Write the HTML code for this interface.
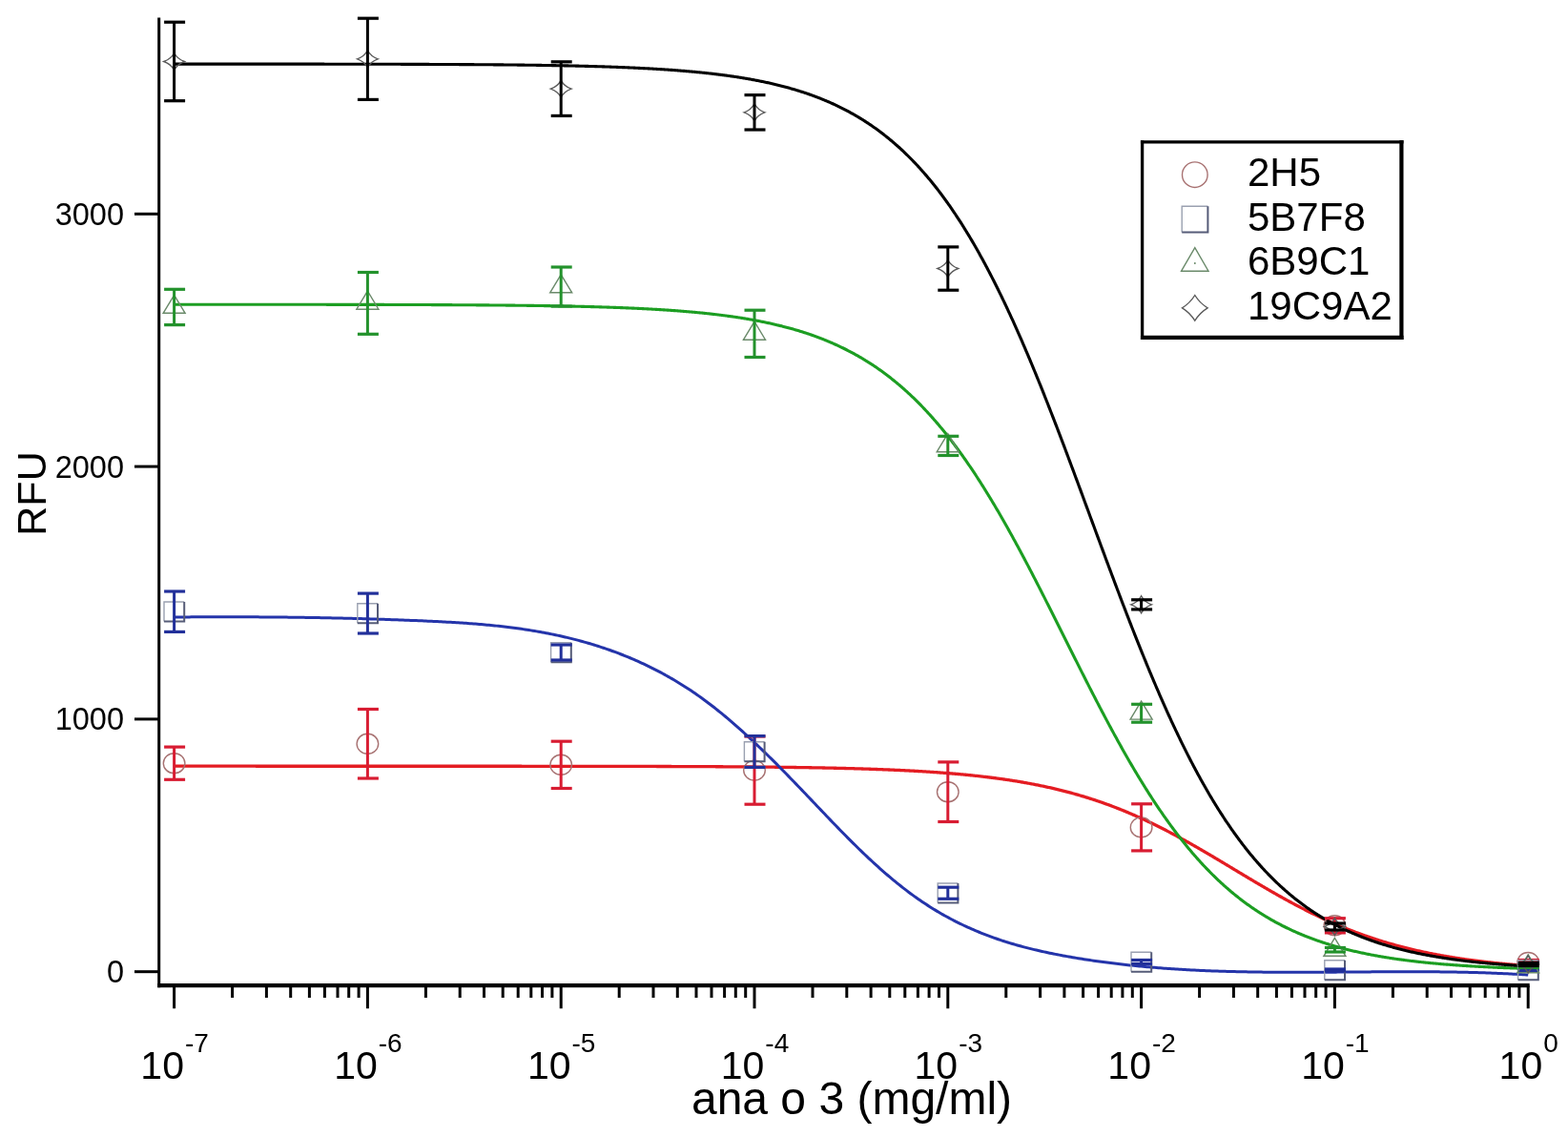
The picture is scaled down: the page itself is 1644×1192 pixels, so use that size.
<!DOCTYPE html>
<html><head><meta charset="utf-8"><style>
html,body{margin:0;padding:0;background:#fff;}
svg{display:block;}
</style></head><body>
<svg width="1644" height="1192" viewBox="0 0 1644 1192">
<rect width="1644" height="1192" fill="#fff"/>
<g stroke="#000" stroke-width="3" fill="none">
<line x1="166.7" y1="18.5" x2="166.7" y2="1035.3"/>
<line x1="165.2" y1="1033.2" x2="1603.7" y2="1033.2" stroke-width="4.2"/>
<line x1="141" y1="1018.7" x2="166.7" y2="1018.7"/>
<line x1="141" y1="753.9" x2="166.7" y2="753.9"/>
<line x1="141" y1="489.1" x2="166.7" y2="489.1"/>
<line x1="141" y1="224.3" x2="166.7" y2="224.3"/>
<line x1="182.6" y1="1033.2" x2="182.6" y2="1057.3"/>
<line x1="243.6" y1="1033.2" x2="243.6" y2="1046"/>
<line x1="279.4" y1="1033.2" x2="279.4" y2="1046"/>
<line x1="304.7" y1="1033.2" x2="304.7" y2="1046"/>
<line x1="324.4" y1="1033.2" x2="324.4" y2="1046"/>
<line x1="340.4" y1="1033.2" x2="340.4" y2="1046"/>
<line x1="354.0" y1="1033.2" x2="354.0" y2="1046"/>
<line x1="365.7" y1="1033.2" x2="365.7" y2="1046"/>
<line x1="376.1" y1="1033.2" x2="376.1" y2="1046"/>
<line x1="385.4" y1="1033.2" x2="385.4" y2="1057.3"/>
<line x1="446.4" y1="1033.2" x2="446.4" y2="1046"/>
<line x1="482.2" y1="1033.2" x2="482.2" y2="1046"/>
<line x1="507.5" y1="1033.2" x2="507.5" y2="1046"/>
<line x1="527.2" y1="1033.2" x2="527.2" y2="1046"/>
<line x1="543.2" y1="1033.2" x2="543.2" y2="1046"/>
<line x1="556.8" y1="1033.2" x2="556.8" y2="1046"/>
<line x1="568.5" y1="1033.2" x2="568.5" y2="1046"/>
<line x1="578.9" y1="1033.2" x2="578.9" y2="1046"/>
<line x1="588.2" y1="1033.2" x2="588.2" y2="1057.3"/>
<line x1="649.2" y1="1033.2" x2="649.2" y2="1046"/>
<line x1="685.0" y1="1033.2" x2="685.0" y2="1046"/>
<line x1="710.3" y1="1033.2" x2="710.3" y2="1046"/>
<line x1="730.0" y1="1033.2" x2="730.0" y2="1046"/>
<line x1="746.0" y1="1033.2" x2="746.0" y2="1046"/>
<line x1="759.6" y1="1033.2" x2="759.6" y2="1046"/>
<line x1="771.3" y1="1033.2" x2="771.3" y2="1046"/>
<line x1="781.7" y1="1033.2" x2="781.7" y2="1046"/>
<line x1="791.0" y1="1033.2" x2="791.0" y2="1057.3"/>
<line x1="852.0" y1="1033.2" x2="852.0" y2="1046"/>
<line x1="887.8" y1="1033.2" x2="887.8" y2="1046"/>
<line x1="913.1" y1="1033.2" x2="913.1" y2="1046"/>
<line x1="932.8" y1="1033.2" x2="932.8" y2="1046"/>
<line x1="948.8" y1="1033.2" x2="948.8" y2="1046"/>
<line x1="962.4" y1="1033.2" x2="962.4" y2="1046"/>
<line x1="974.1" y1="1033.2" x2="974.1" y2="1046"/>
<line x1="984.5" y1="1033.2" x2="984.5" y2="1046"/>
<line x1="993.8" y1="1033.2" x2="993.8" y2="1057.3"/>
<line x1="1054.8" y1="1033.2" x2="1054.8" y2="1046"/>
<line x1="1090.6" y1="1033.2" x2="1090.6" y2="1046"/>
<line x1="1115.9" y1="1033.2" x2="1115.9" y2="1046"/>
<line x1="1135.6" y1="1033.2" x2="1135.6" y2="1046"/>
<line x1="1151.6" y1="1033.2" x2="1151.6" y2="1046"/>
<line x1="1165.2" y1="1033.2" x2="1165.2" y2="1046"/>
<line x1="1176.9" y1="1033.2" x2="1176.9" y2="1046"/>
<line x1="1187.3" y1="1033.2" x2="1187.3" y2="1046"/>
<line x1="1196.6" y1="1033.2" x2="1196.6" y2="1057.3"/>
<line x1="1257.6" y1="1033.2" x2="1257.6" y2="1046"/>
<line x1="1293.4" y1="1033.2" x2="1293.4" y2="1046"/>
<line x1="1318.7" y1="1033.2" x2="1318.7" y2="1046"/>
<line x1="1338.4" y1="1033.2" x2="1338.4" y2="1046"/>
<line x1="1354.4" y1="1033.2" x2="1354.4" y2="1046"/>
<line x1="1368.0" y1="1033.2" x2="1368.0" y2="1046"/>
<line x1="1379.7" y1="1033.2" x2="1379.7" y2="1046"/>
<line x1="1390.1" y1="1033.2" x2="1390.1" y2="1046"/>
<line x1="1399.4" y1="1033.2" x2="1399.4" y2="1057.3"/>
<line x1="1460.4" y1="1033.2" x2="1460.4" y2="1046"/>
<line x1="1496.2" y1="1033.2" x2="1496.2" y2="1046"/>
<line x1="1521.5" y1="1033.2" x2="1521.5" y2="1046"/>
<line x1="1541.2" y1="1033.2" x2="1541.2" y2="1046"/>
<line x1="1557.2" y1="1033.2" x2="1557.2" y2="1046"/>
<line x1="1570.8" y1="1033.2" x2="1570.8" y2="1046"/>
<line x1="1582.5" y1="1033.2" x2="1582.5" y2="1046"/>
<line x1="1592.9" y1="1033.2" x2="1592.9" y2="1046"/>
<line x1="1602.2" y1="1033.2" x2="1602.2" y2="1057.3"/>
</g>
<g font-family="Liberation Sans, Arial, sans-serif" fill="#000">
<text x="130" y="1030.2" font-size="32.5" text-anchor="end">0</text>
<text x="130" y="765.4" font-size="32.5" text-anchor="end">1000</text>
<text x="130" y="500.6" font-size="32.5" text-anchor="end">2000</text>
<text x="130" y="235.8" font-size="32.5" text-anchor="end">3000</text>
<text x="183.1" y="1131" font-size="41" text-anchor="middle">10<tspan font-size="28" dx="1" dy="-28.5">-7</tspan></text>
<text x="385.9" y="1131" font-size="41" text-anchor="middle">10<tspan font-size="28" dx="1" dy="-28.5">-6</tspan></text>
<text x="588.7" y="1131" font-size="41" text-anchor="middle">10<tspan font-size="28" dx="1" dy="-28.5">-5</tspan></text>
<text x="791.5" y="1131" font-size="41" text-anchor="middle">10<tspan font-size="28" dx="1" dy="-28.5">-4</tspan></text>
<text x="994.3" y="1131" font-size="41" text-anchor="middle">10<tspan font-size="28" dx="1" dy="-28.5">-3</tspan></text>
<text x="1197.1" y="1131" font-size="41" text-anchor="middle">10<tspan font-size="28" dx="1" dy="-28.5">-2</tspan></text>
<text x="1399.9" y="1131" font-size="41" text-anchor="middle">10<tspan font-size="28" dx="1" dy="-28.5">-1</tspan></text>
<text x="1602.7" y="1131" font-size="41" text-anchor="middle">10<tspan font-size="28" dx="1" dy="-28.5">0</tspan></text>
<text x="893" y="1168" font-size="48" text-anchor="middle">ana o 3 (mg/ml)</text>
<text transform="translate(48 517.5) rotate(-90)" font-size="43" text-anchor="middle">RFU</text>
</g>
<path d="M182.6,803.22 L183.6,803.22 L184.6,803.22 L185.6,803.22 L186.6,803.22 L187.6,803.22 L188.6,803.22 L189.6,803.22 L190.6,803.22 L191.6,803.22 L192.6,803.22 L193.6,803.22 L194.6,803.22 L195.6,803.22 L196.6,803.22 L197.6,803.22 L198.6,803.22 L199.6,803.22 L200.6,803.22 L201.6,803.22 L202.6,803.22 L203.6,803.22 L204.6,803.22 L205.6,803.22 L206.6,803.22 L207.6,803.22 L208.6,803.22 L209.6,803.22 L210.6,803.22 L211.6,803.22 L212.6,803.22 L213.6,803.22 L214.6,803.22 L215.6,803.22 L216.6,803.22 L217.6,803.22 L218.6,803.22 L219.6,803.22 L220.6,803.22 L221.6,803.22 L222.6,803.22 L223.6,803.22 L224.6,803.22 L225.6,803.22 L226.6,803.22 L227.6,803.22 L228.6,803.22 L229.6,803.22 L230.6,803.22 L231.6,803.22 L232.6,803.22 L233.6,803.22 L234.6,803.22 L235.6,803.22 L236.6,803.22 L237.6,803.22 L238.6,803.22 L239.6,803.22 L240.6,803.22 L241.6,803.22 L242.6,803.22 L243.6,803.22 L244.6,803.22 L245.6,803.22 L246.6,803.22 L247.6,803.22 L248.6,803.22 L249.6,803.22 L250.6,803.22 L251.6,803.22 L252.6,803.22 L253.6,803.22 L254.6,803.22 L255.6,803.22 L256.6,803.22 L257.6,803.22 L258.6,803.22 L259.6,803.22 L260.6,803.22 L261.6,803.22 L262.6,803.22 L263.6,803.22 L264.6,803.22 L265.6,803.22 L266.6,803.22 L267.6,803.22 L268.6,803.23 L269.6,803.23 L270.6,803.23 L271.6,803.23 L272.6,803.23 L273.6,803.23 L274.6,803.23 L275.6,803.23 L276.6,803.23 L277.6,803.23 L278.6,803.23 L279.6,803.23 L280.6,803.23 L281.6,803.23 L282.6,803.23 L283.6,803.23 L284.6,803.23 L285.6,803.23 L286.6,803.23 L287.6,803.23 L288.6,803.23 L289.6,803.23 L290.6,803.23 L291.6,803.23 L292.6,803.23 L293.6,803.23 L294.6,803.23 L295.6,803.23 L296.6,803.23 L297.6,803.23 L298.6,803.23 L299.6,803.23 L300.6,803.23 L301.6,803.23 L302.6,803.23 L303.6,803.23 L304.6,803.23 L305.6,803.23 L306.6,803.23 L307.6,803.23 L308.6,803.23 L309.6,803.23 L310.6,803.23 L311.6,803.23 L312.6,803.23 L313.6,803.23 L314.6,803.23 L315.6,803.23 L316.6,803.23 L317.6,803.23 L318.6,803.23 L319.6,803.23 L320.6,803.23 L321.6,803.23 L322.6,803.23 L323.6,803.23 L324.6,803.23 L325.6,803.23 L326.6,803.23 L327.6,803.23 L328.6,803.23 L329.6,803.23 L330.6,803.23 L331.6,803.23 L332.6,803.23 L333.6,803.23 L334.6,803.23 L335.6,803.23 L336.6,803.23 L337.6,803.23 L338.6,803.23 L339.6,803.23 L340.6,803.23 L341.6,803.23 L342.6,803.23 L343.6,803.23 L344.6,803.23 L345.6,803.23 L346.6,803.23 L347.6,803.23 L348.6,803.23 L349.6,803.23 L350.6,803.23 L351.6,803.23 L352.6,803.23 L353.6,803.23 L354.6,803.23 L355.6,803.23 L356.6,803.23 L357.6,803.23 L358.6,803.23 L359.6,803.23 L360.6,803.23 L361.6,803.23 L362.6,803.23 L363.6,803.23 L364.6,803.23 L365.6,803.23 L366.6,803.23 L367.6,803.23 L368.6,803.23 L369.6,803.23 L370.6,803.23 L371.6,803.23 L372.6,803.23 L373.6,803.23 L374.6,803.23 L375.6,803.23 L376.6,803.23 L377.6,803.23 L378.6,803.23 L379.6,803.23 L380.6,803.23 L381.6,803.23 L382.6,803.23 L383.6,803.23 L384.6,803.23 L385.6,803.23 L386.6,803.23 L387.6,803.23 L388.6,803.23 L389.6,803.23 L390.6,803.23 L391.6,803.23 L392.6,803.23 L393.6,803.23 L394.6,803.23 L395.6,803.23 L396.6,803.23 L397.6,803.23 L398.6,803.23 L399.6,803.23 L400.6,803.23 L401.6,803.23 L402.6,803.23 L403.6,803.23 L404.6,803.23 L405.6,803.23 L406.6,803.23 L407.6,803.23 L408.6,803.23 L409.6,803.23 L410.6,803.23 L411.6,803.23 L412.6,803.23 L413.6,803.23 L414.6,803.23 L415.6,803.23 L416.6,803.23 L417.6,803.24 L418.6,803.24 L419.6,803.24 L420.6,803.24 L421.6,803.24 L422.6,803.24 L423.6,803.24 L424.6,803.24 L425.6,803.24 L426.6,803.24 L427.6,803.24 L428.6,803.24 L429.6,803.24 L430.6,803.24 L431.6,803.24 L432.6,803.24 L433.6,803.24 L434.6,803.24 L435.6,803.24 L436.6,803.24 L437.6,803.24 L438.6,803.24 L439.6,803.24 L440.6,803.24 L441.6,803.24 L442.6,803.24 L443.6,803.24 L444.6,803.24 L445.6,803.24 L446.6,803.24 L447.6,803.24 L448.6,803.24 L449.6,803.24 L450.6,803.24 L451.6,803.24 L452.6,803.24 L453.6,803.24 L454.6,803.24 L455.6,803.24 L456.6,803.24 L457.6,803.24 L458.6,803.24 L459.6,803.24 L460.6,803.24 L461.6,803.24 L462.6,803.24 L463.6,803.24 L464.6,803.24 L465.6,803.24 L466.6,803.24 L467.6,803.24 L468.6,803.24 L469.6,803.24 L470.6,803.25 L471.6,803.25 L472.6,803.25 L473.6,803.25 L474.6,803.25 L475.6,803.25 L476.6,803.25 L477.6,803.25 L478.6,803.25 L479.6,803.25 L480.6,803.25 L481.6,803.25 L482.6,803.25 L483.6,803.25 L484.6,803.25 L485.6,803.25 L486.6,803.25 L487.6,803.25 L488.6,803.25 L489.6,803.25 L490.6,803.25 L491.6,803.25 L492.6,803.25 L493.6,803.25 L494.6,803.25 L495.6,803.25 L496.6,803.25 L497.6,803.25 L498.6,803.25 L499.6,803.25 L500.6,803.25 L501.6,803.25 L502.6,803.25 L503.6,803.26 L504.6,803.26 L505.6,803.26 L506.6,803.26 L507.6,803.26 L508.6,803.26 L509.6,803.26 L510.6,803.26 L511.6,803.26 L512.6,803.26 L513.6,803.26 L514.6,803.26 L515.6,803.26 L516.6,803.26 L517.6,803.26 L518.6,803.26 L519.6,803.26 L520.6,803.26 L521.6,803.26 L522.6,803.26 L523.6,803.26 L524.6,803.26 L525.6,803.26 L526.6,803.26 L527.6,803.26 L528.6,803.27 L529.6,803.27 L530.6,803.27 L531.6,803.27 L532.6,803.27 L533.6,803.27 L534.6,803.27 L535.6,803.27 L536.6,803.27 L537.6,803.27 L538.6,803.27 L539.6,803.27 L540.6,803.27 L541.6,803.27 L542.6,803.27 L543.6,803.27 L544.6,803.27 L545.6,803.27 L546.6,803.27 L547.6,803.28 L548.6,803.28 L549.6,803.28 L550.6,803.28 L551.6,803.28 L552.6,803.28 L553.6,803.28 L554.6,803.28 L555.6,803.28 L556.6,803.28 L557.6,803.28 L558.6,803.28 L559.6,803.28 L560.6,803.28 L561.6,803.28 L562.6,803.29 L563.6,803.29 L564.6,803.29 L565.6,803.29 L566.6,803.29 L567.6,803.29 L568.6,803.29 L569.6,803.29 L570.6,803.29 L571.6,803.29 L572.6,803.29 L573.6,803.29 L574.6,803.29 L575.6,803.29 L576.6,803.30 L577.6,803.30 L578.6,803.30 L579.6,803.30 L580.6,803.30 L581.6,803.30 L582.6,803.30 L583.6,803.30 L584.6,803.30 L585.6,803.30 L586.6,803.30 L587.6,803.31 L588.6,803.31 L589.6,803.31 L590.6,803.31 L591.6,803.31 L592.6,803.31 L593.6,803.31 L594.6,803.31 L595.6,803.31 L596.6,803.31 L597.6,803.31 L598.6,803.32 L599.6,803.32 L600.6,803.32 L601.6,803.32 L602.6,803.32 L603.6,803.32 L604.6,803.32 L605.6,803.32 L606.6,803.32 L607.6,803.33 L608.6,803.33 L609.6,803.33 L610.6,803.33 L611.6,803.33 L612.6,803.33 L613.6,803.33 L614.6,803.33 L615.6,803.34 L616.6,803.34 L617.6,803.34 L618.6,803.34 L619.6,803.34 L620.6,803.34 L621.6,803.34 L622.6,803.34 L623.6,803.35 L624.6,803.35 L625.6,803.35 L626.6,803.35 L627.6,803.35 L628.6,803.35 L629.6,803.35 L630.6,803.36 L631.6,803.36 L632.6,803.36 L633.6,803.36 L634.6,803.36 L635.6,803.36 L636.6,803.37 L637.6,803.37 L638.6,803.37 L639.6,803.37 L640.6,803.37 L641.6,803.37 L642.6,803.38 L643.6,803.38 L644.6,803.38 L645.6,803.38 L646.6,803.38 L647.6,803.38 L648.6,803.39 L649.6,803.39 L650.6,803.39 L651.6,803.39 L652.6,803.39 L653.6,803.39 L654.6,803.40 L655.6,803.40 L656.6,803.40 L657.6,803.40 L658.6,803.40 L659.6,803.41 L660.6,803.41 L661.6,803.41 L662.6,803.41 L663.6,803.42 L664.6,803.42 L665.6,803.42 L666.6,803.42 L667.6,803.42 L668.6,803.43 L669.6,803.43 L670.6,803.43 L671.6,803.43 L672.6,803.44 L673.6,803.44 L674.6,803.44 L675.6,803.44 L676.6,803.45 L677.6,803.45 L678.6,803.45 L679.6,803.45 L680.6,803.46 L681.6,803.46 L682.6,803.46 L683.6,803.46 L684.6,803.47 L685.6,803.47 L686.6,803.47 L687.6,803.47 L688.6,803.48 L689.6,803.48 L690.6,803.48 L691.6,803.49 L692.6,803.49 L693.6,803.49 L694.6,803.49 L695.6,803.50 L696.6,803.50 L697.6,803.50 L698.6,803.51 L699.6,803.51 L700.6,803.51 L701.6,803.52 L702.6,803.52 L703.6,803.52 L704.6,803.53 L705.6,803.53 L706.6,803.53 L707.6,803.54 L708.6,803.54 L709.6,803.54 L710.6,803.55 L711.6,803.55 L712.6,803.55 L713.6,803.56 L714.6,803.56 L715.6,803.57 L716.6,803.57 L717.6,803.57 L718.6,803.58 L719.6,803.58 L720.6,803.59 L721.6,803.59 L722.6,803.59 L723.6,803.60 L724.6,803.60 L725.6,803.61 L726.6,803.61 L727.6,803.62 L728.6,803.62 L729.6,803.62 L730.6,803.63 L731.6,803.63 L732.6,803.64 L733.6,803.64 L734.6,803.65 L735.6,803.65 L736.6,803.66 L737.6,803.66 L738.6,803.67 L739.6,803.67 L740.6,803.68 L741.6,803.68 L742.6,803.69 L743.6,803.69 L744.6,803.70 L745.6,803.70 L746.6,803.71 L747.6,803.71 L748.6,803.72 L749.6,803.72 L750.6,803.73 L751.6,803.74 L752.6,803.74 L753.6,803.75 L754.6,803.75 L755.6,803.76 L756.6,803.76 L757.6,803.77 L758.6,803.78 L759.6,803.78 L760.6,803.79 L761.6,803.80 L762.6,803.80 L763.6,803.81 L764.6,803.82 L765.6,803.82 L766.6,803.83 L767.6,803.84 L768.6,803.84 L769.6,803.85 L770.6,803.86 L771.6,803.86 L772.6,803.87 L773.6,803.88 L774.6,803.88 L775.6,803.89 L776.6,803.90 L777.6,803.91 L778.6,803.91 L779.6,803.92 L780.6,803.93 L781.6,803.94 L782.6,803.95 L783.6,803.95 L784.6,803.96 L785.6,803.97 L786.6,803.98 L787.6,803.99 L788.6,804.00 L789.6,804.00 L790.6,804.01 L791.6,804.02 L792.6,804.03 L793.6,804.04 L794.6,804.05 L795.6,804.06 L796.6,804.07 L797.6,804.08 L798.6,804.09 L799.6,804.10 L800.6,804.11 L801.6,804.12 L802.6,804.13 L803.6,804.14 L804.6,804.15 L805.6,804.16 L806.6,804.17 L807.6,804.18 L808.6,804.19 L809.6,804.20 L810.6,804.21 L811.6,804.22 L812.6,804.23 L813.6,804.24 L814.6,804.25 L815.6,804.27 L816.6,804.28 L817.6,804.29 L818.6,804.30 L819.6,804.31 L820.6,804.33 L821.6,804.34 L822.6,804.35 L823.6,804.36 L824.6,804.38 L825.6,804.39 L826.6,804.40 L827.6,804.41 L828.6,804.43 L829.6,804.44 L830.6,804.46 L831.6,804.47 L832.6,804.48 L833.6,804.50 L834.6,804.51 L835.6,804.53 L836.6,804.54 L837.6,804.55 L838.6,804.57 L839.6,804.58 L840.6,804.60 L841.6,804.61 L842.6,804.63 L843.6,804.65 L844.6,804.66 L845.6,804.68 L846.6,804.69 L847.6,804.71 L848.6,804.73 L849.6,804.74 L850.6,804.76 L851.6,804.78 L852.6,804.80 L853.6,804.81 L854.6,804.83 L855.6,804.85 L856.6,804.87 L857.6,804.88 L858.6,804.90 L859.6,804.92 L860.6,804.94 L861.6,804.96 L862.6,804.98 L863.6,805.00 L864.6,805.02 L865.6,805.04 L866.6,805.06 L867.6,805.08 L868.6,805.10 L869.6,805.12 L870.6,805.14 L871.6,805.16 L872.6,805.18 L873.6,805.21 L874.6,805.23 L875.6,805.25 L876.6,805.27 L877.6,805.30 L878.6,805.32 L879.6,805.34 L880.6,805.37 L881.6,805.39 L882.6,805.41 L883.6,805.44 L884.6,805.46 L885.6,805.49 L886.6,805.51 L887.6,805.54 L888.6,805.56 L889.6,805.59 L890.6,805.62 L891.6,805.64 L892.6,805.67 L893.6,805.70 L894.6,805.72 L895.6,805.75 L896.6,805.78 L897.6,805.81 L898.6,805.84 L899.6,805.86 L900.6,805.89 L901.6,805.92 L902.6,805.95 L903.6,805.98 L904.6,806.01 L905.6,806.04 L906.6,806.08 L907.6,806.11 L908.6,806.14 L909.6,806.17 L910.6,806.20 L911.6,806.24 L912.6,806.27 L913.6,806.30 L914.6,806.34 L915.6,806.37 L916.6,806.41 L917.6,806.44 L918.6,806.48 L919.6,806.51 L920.6,806.55 L921.6,806.59 L922.6,806.62 L923.6,806.66 L924.6,806.70 L925.6,806.74 L926.6,806.78 L927.6,806.82 L928.6,806.86 L929.6,806.90 L930.6,806.94 L931.6,806.98 L932.6,807.02 L933.6,807.06 L934.6,807.10 L935.6,807.15 L936.6,807.19 L937.6,807.23 L938.6,807.28 L939.6,807.32 L940.6,807.37 L941.6,807.41 L942.6,807.46 L943.6,807.50 L944.6,807.55 L945.6,807.60 L946.6,807.65 L947.6,807.69 L948.6,807.74 L949.6,807.79 L950.6,807.84 L951.6,807.89 L952.6,807.95 L953.6,808.00 L954.6,808.05 L955.6,808.10 L956.6,808.16 L957.6,808.21 L958.6,808.26 L959.6,808.32 L960.6,808.38 L961.6,808.43 L962.6,808.49 L963.6,808.55 L964.6,808.60 L965.6,808.66 L966.6,808.72 L967.6,808.78 L968.6,808.84 L969.6,808.90 L970.6,808.97 L971.6,809.03 L972.6,809.09 L973.6,809.16 L974.6,809.22 L975.6,809.29 L976.6,809.35 L977.6,809.42 L978.6,809.49 L979.6,809.55 L980.6,809.62 L981.6,809.69 L982.6,809.76 L983.6,809.83 L984.6,809.91 L985.6,809.98 L986.6,810.05 L987.6,810.13 L988.6,810.20 L989.6,810.28 L990.6,810.35 L991.6,810.43 L992.6,810.51 L993.6,810.59 L994.6,810.67 L995.6,810.75 L996.6,810.83 L997.6,810.91 L998.6,810.99 L999.6,811.08 L1000.6,811.16 L1001.6,811.25 L1002.6,811.34 L1003.6,811.42 L1004.6,811.51 L1005.6,811.60 L1006.6,811.69 L1007.6,811.78 L1008.6,811.87 L1009.6,811.97 L1010.6,812.06 L1011.6,812.16 L1012.6,812.25 L1013.6,812.35 L1014.6,812.45 L1015.6,812.55 L1016.6,812.65 L1017.6,812.75 L1018.6,812.85 L1019.6,812.95 L1020.6,813.06 L1021.6,813.16 L1022.6,813.27 L1023.6,813.37 L1024.6,813.48 L1025.6,813.59 L1026.6,813.70 L1027.6,813.81 L1028.6,813.93 L1029.6,814.04 L1030.6,814.16 L1031.6,814.27 L1032.6,814.39 L1033.6,814.51 L1034.6,814.63 L1035.6,814.75 L1036.6,814.87 L1037.6,815.00 L1038.6,815.12 L1039.6,815.25 L1040.6,815.37 L1041.6,815.50 L1042.6,815.63 L1043.6,815.76 L1044.6,815.89 L1045.6,816.03 L1046.6,816.16 L1047.6,816.30 L1048.6,816.44 L1049.6,816.58 L1050.6,816.72 L1051.6,816.86 L1052.6,817.00 L1053.6,817.15 L1054.6,817.29 L1055.6,817.44 L1056.6,817.59 L1057.6,817.74 L1058.6,817.89 L1059.6,818.04 L1060.6,818.20 L1061.6,818.35 L1062.6,818.51 L1063.6,818.67 L1064.6,818.83 L1065.6,818.99 L1066.6,819.16 L1067.6,819.32 L1068.6,819.49 L1069.6,819.66 L1070.6,819.83 L1071.6,820.00 L1072.6,820.17 L1073.6,820.35 L1074.6,820.52 L1075.6,820.70 L1076.6,820.88 L1077.6,821.06 L1078.6,821.25 L1079.6,821.43 L1080.6,821.62 L1081.6,821.81 L1082.6,822.00 L1083.6,822.19 L1084.6,822.38 L1085.6,822.58 L1086.6,822.77 L1087.6,822.97 L1088.6,823.17 L1089.6,823.38 L1090.6,823.58 L1091.6,823.79 L1092.6,824.00 L1093.6,824.21 L1094.6,824.42 L1095.6,824.63 L1096.6,824.85 L1097.6,825.07 L1098.6,825.29 L1099.6,825.51 L1100.6,825.73 L1101.6,825.96 L1102.6,826.19 L1103.6,826.42 L1104.6,826.65 L1105.6,826.88 L1106.6,827.12 L1107.6,827.35 L1108.6,827.59 L1109.6,827.84 L1110.6,828.08 L1111.6,828.33 L1112.6,828.58 L1113.6,828.83 L1114.6,829.08 L1115.6,829.33 L1116.6,829.59 L1117.6,829.85 L1118.6,830.11 L1119.6,830.37 L1120.6,830.64 L1121.6,830.91 L1122.6,831.18 L1123.6,831.45 L1124.6,831.72 L1125.6,832.00 L1126.6,832.28 L1127.6,832.56 L1128.6,832.85 L1129.6,833.13 L1130.6,833.42 L1131.6,833.71 L1132.6,834.00 L1133.6,834.30 L1134.6,834.60 L1135.6,834.90 L1136.6,835.20 L1137.6,835.50 L1138.6,835.81 L1139.6,836.12 L1140.6,836.43 L1141.6,836.75 L1142.6,837.06 L1143.6,837.38 L1144.6,837.71 L1145.6,838.03 L1146.6,838.36 L1147.6,838.69 L1148.6,839.02 L1149.6,839.35 L1150.6,839.69 L1151.6,840.03 L1152.6,840.37 L1153.6,840.71 L1154.6,841.06 L1155.6,841.41 L1156.6,841.76 L1157.6,842.11 L1158.6,842.47 L1159.6,842.83 L1160.6,843.19 L1161.6,843.56 L1162.6,843.92 L1163.6,844.29 L1164.6,844.66 L1165.6,845.04 L1166.6,845.42 L1167.6,845.80 L1168.6,846.18 L1169.6,846.56 L1170.6,846.95 L1171.6,847.34 L1172.6,847.73 L1173.6,848.13 L1174.6,848.53 L1175.6,848.93 L1176.6,849.33 L1177.6,849.73 L1178.6,850.14 L1179.6,850.55 L1180.6,850.97 L1181.6,851.38 L1182.6,851.80 L1183.6,852.22 L1184.6,852.65 L1185.6,853.07 L1186.6,853.50 L1187.6,853.93 L1188.6,854.36 L1189.6,854.80 L1190.6,855.24 L1191.6,855.68 L1192.6,856.13 L1193.6,856.57 L1194.6,857.02 L1195.6,857.47 L1196.6,857.93 L1197.6,858.38 L1198.6,858.84 L1199.6,859.30 L1200.6,859.77 L1201.6,860.23 L1202.6,860.70 L1203.6,861.17 L1204.6,861.65 L1205.6,862.12 L1206.6,862.60 L1207.6,863.08 L1208.6,863.57 L1209.6,864.05 L1210.6,864.54 L1211.6,865.03 L1212.6,865.53 L1213.6,866.02 L1214.6,866.52 L1215.6,867.02 L1216.6,867.52 L1217.6,868.03 L1218.6,868.53 L1219.6,869.04 L1220.6,869.55 L1221.6,870.07 L1222.6,870.58 L1223.6,871.10 L1224.6,871.62 L1225.6,872.14 L1226.6,872.66 L1227.6,873.19 L1228.6,873.72 L1229.6,874.25 L1230.6,874.78 L1231.6,875.32 L1232.6,875.85 L1233.6,876.39 L1234.6,876.93 L1235.6,877.47 L1236.6,878.02 L1237.6,878.56 L1238.6,879.11 L1239.6,879.66 L1240.6,880.21 L1241.6,880.77 L1242.6,881.32 L1243.6,881.88 L1244.6,882.44 L1245.6,883.00 L1246.6,883.56 L1247.6,884.12 L1248.6,884.68 L1249.6,885.25 L1250.6,885.82 L1251.6,886.39 L1252.6,886.96 L1253.6,887.53 L1254.6,888.11 L1255.6,888.68 L1256.6,889.26 L1257.6,889.83 L1258.6,890.41 L1259.6,890.99 L1260.6,891.57 L1261.6,892.16 L1262.6,892.74 L1263.6,893.33 L1264.6,893.91 L1265.6,894.50 L1266.6,895.09 L1267.6,895.68 L1268.6,896.27 L1269.6,896.86 L1270.6,897.45 L1271.6,898.04 L1272.6,898.63 L1273.6,899.23 L1274.6,899.82 L1275.6,900.42 L1276.6,901.01 L1277.6,901.61 L1278.6,902.21 L1279.6,902.81 L1280.6,903.41 L1281.6,904.00 L1282.6,904.60 L1283.6,905.20 L1284.6,905.80 L1285.6,906.41 L1286.6,907.01 L1287.6,907.61 L1288.6,908.21 L1289.6,908.81 L1290.6,909.41 L1291.6,910.01 L1292.6,910.62 L1293.6,911.22 L1294.6,911.82 L1295.6,912.42 L1296.6,913.02 L1297.6,913.62 L1298.6,914.23 L1299.6,914.83 L1300.6,915.43 L1301.6,916.03 L1302.6,916.63 L1303.6,917.23 L1304.6,917.83 L1305.6,918.43 L1306.6,919.03 L1307.6,919.63 L1308.6,920.23 L1309.6,920.82 L1310.6,921.42 L1311.6,922.02 L1312.6,922.61 L1313.6,923.21 L1314.6,923.80 L1315.6,924.40 L1316.6,924.99 L1317.6,925.58 L1318.6,926.17 L1319.6,926.76 L1320.6,927.35 L1321.6,927.94 L1322.6,928.52 L1323.6,929.11 L1324.6,929.70 L1325.6,930.28 L1326.6,930.86 L1327.6,931.44 L1328.6,932.02 L1329.6,932.60 L1330.6,933.18 L1331.6,933.76 L1332.6,934.33 L1333.6,934.91 L1334.6,935.48 L1335.6,936.05 L1336.6,936.62 L1337.6,937.19 L1338.6,937.75 L1339.6,938.32 L1340.6,938.88 L1341.6,939.44 L1342.6,940.00 L1343.6,940.56 L1344.6,941.12 L1345.6,941.67 L1346.6,942.23 L1347.6,942.78 L1348.6,943.33 L1349.6,943.88 L1350.6,944.42 L1351.6,944.97 L1352.6,945.51 L1353.6,946.05 L1354.6,946.59 L1355.6,947.12 L1356.6,947.66 L1357.6,948.19 L1358.6,948.72 L1359.6,949.25 L1360.6,949.78 L1361.6,950.30 L1362.6,950.82 L1363.6,951.34 L1364.6,951.86 L1365.6,952.38 L1366.6,952.89 L1367.6,953.40 L1368.6,953.91 L1369.6,954.42 L1370.6,954.92 L1371.6,955.43 L1372.6,955.93 L1373.6,956.42 L1374.6,956.92 L1375.6,957.41 L1376.6,957.90 L1377.6,958.39 L1378.6,958.88 L1379.6,959.36 L1380.6,959.84 L1381.6,960.32 L1382.6,960.80 L1383.6,961.27 L1384.6,961.74 L1385.6,962.21 L1386.6,962.68 L1387.6,963.14 L1388.6,963.61 L1389.6,964.06 L1390.6,964.52 L1391.6,964.98 L1392.6,965.43 L1393.6,965.88 L1394.6,966.32 L1395.6,966.77 L1396.6,967.21 L1397.6,967.65 L1398.6,968.09 L1399.6,968.52 L1400.6,968.95 L1401.6,969.38 L1402.6,969.81 L1403.6,970.23 L1404.6,970.65 L1405.6,971.07 L1406.6,971.49 L1407.6,971.90 L1408.6,972.31 L1409.6,972.72 L1410.6,973.12 L1411.6,973.53 L1412.6,973.93 L1413.6,974.33 L1414.6,974.72 L1415.6,975.11 L1416.6,975.50 L1417.6,975.89 L1418.6,976.28 L1419.6,976.66 L1420.6,977.04 L1421.6,977.42 L1422.6,977.79 L1423.6,978.16 L1424.6,978.53 L1425.6,978.90 L1426.6,979.26 L1427.6,979.63 L1428.6,979.99 L1429.6,980.34 L1430.6,980.70 L1431.6,981.05 L1432.6,981.40 L1433.6,981.75 L1434.6,982.09 L1435.6,982.43 L1436.6,982.77 L1437.6,983.11 L1438.6,983.44 L1439.6,983.77 L1440.6,984.10 L1441.6,984.43 L1442.6,984.75 L1443.6,985.08 L1444.6,985.40 L1445.6,985.71 L1446.6,986.03 L1447.6,986.34 L1448.6,986.65 L1449.6,986.96 L1450.6,987.26 L1451.6,987.56 L1452.6,987.87 L1453.6,988.16 L1454.6,988.46 L1455.6,988.75 L1456.6,989.04 L1457.6,989.33 L1458.6,989.62 L1459.6,989.90 L1460.6,990.18 L1461.6,990.46 L1462.6,990.74 L1463.6,991.01 L1464.6,991.29 L1465.6,991.56 L1466.6,991.83 L1467.6,992.09 L1468.6,992.36 L1469.6,992.62 L1470.6,992.88 L1471.6,993.13 L1472.6,993.39 L1473.6,993.64 L1474.6,993.89 L1475.6,994.14 L1476.6,994.39 L1477.6,994.63 L1478.6,994.87 L1479.6,995.11 L1480.6,995.35 L1481.6,995.59 L1482.6,995.82 L1483.6,996.05 L1484.6,996.28 L1485.6,996.51 L1486.6,996.74 L1487.6,996.96 L1488.6,997.18 L1489.6,997.40 L1490.6,997.62 L1491.6,997.84 L1492.6,998.05 L1493.6,998.26 L1494.6,998.47 L1495.6,998.68 L1496.6,998.89 L1497.6,999.09 L1498.6,999.30 L1499.6,999.50 L1500.6,999.70 L1501.6,999.89 L1502.6,1000.09 L1503.6,1000.28 L1504.6,1000.48 L1505.6,1000.67 L1506.6,1000.85 L1507.6,1001.04 L1508.6,1001.23 L1509.6,1001.41 L1510.6,1001.59 L1511.6,1001.77 L1512.6,1001.95 L1513.6,1002.13 L1514.6,1002.30 L1515.6,1002.48 L1516.6,1002.65 L1517.6,1002.82 L1518.6,1002.99 L1519.6,1003.15 L1520.6,1003.32 L1521.6,1003.48 L1522.6,1003.64 L1523.6,1003.81 L1524.6,1003.96 L1525.6,1004.12 L1526.6,1004.28 L1527.6,1004.43 L1528.6,1004.59 L1529.6,1004.74 L1530.6,1004.89 L1531.6,1005.04 L1532.6,1005.18 L1533.6,1005.33 L1534.6,1005.48 L1535.6,1005.62 L1536.6,1005.76 L1537.6,1005.90 L1538.6,1006.04 L1539.6,1006.18 L1540.6,1006.31 L1541.6,1006.45 L1542.6,1006.58 L1543.6,1006.71 L1544.6,1006.85 L1545.6,1006.98 L1546.6,1007.10 L1547.6,1007.23 L1548.6,1007.36 L1549.6,1007.48 L1550.6,1007.61 L1551.6,1007.73 L1552.6,1007.85 L1553.6,1007.97 L1554.6,1008.09 L1555.6,1008.21 L1556.6,1008.32 L1557.6,1008.44 L1558.6,1008.55 L1559.6,1008.66 L1560.6,1008.78 L1561.6,1008.89 L1562.6,1009.00 L1563.6,1009.10 L1564.6,1009.21 L1565.6,1009.32 L1566.6,1009.42 L1567.6,1009.53 L1568.6,1009.63 L1569.6,1009.73 L1570.6,1009.83 L1571.6,1009.93 L1572.6,1010.03 L1573.6,1010.13 L1574.6,1010.23 L1575.6,1010.32 L1576.6,1010.42 L1577.6,1010.51 L1578.6,1010.61 L1579.6,1010.70 L1580.6,1010.79 L1581.6,1010.88 L1582.6,1010.97 L1583.6,1011.06 L1584.6,1011.15 L1585.6,1011.23 L1586.6,1011.32 L1587.6,1011.40 L1588.6,1011.49 L1589.6,1011.57 L1590.6,1011.65 L1591.6,1011.73 L1592.6,1011.81 L1593.6,1011.89 L1594.6,1011.97 L1595.6,1012.05 L1596.6,1012.13 L1597.6,1012.21 L1598.6,1012.28 L1599.6,1012.36 L1600.6,1012.43 L1601.6,1012.50 L1602.2,1012.55" fill="none" stroke="#e41c22" stroke-width="3.3"/>
<path d="M182.6,646.99 L184.6,646.98 L186.6,646.96 L188.6,646.95 L190.6,646.93 L192.6,646.92 L194.6,646.91 L196.6,646.89 L198.6,646.88 L200.6,646.87 L202.6,646.86 L204.6,646.85 L206.6,646.84 L208.6,646.83 L210.6,646.82 L212.6,646.81 L214.6,646.81 L216.6,646.80 L218.6,646.79 L220.6,646.79 L222.6,646.78 L224.6,646.78 L226.6,646.78 L228.6,646.77 L230.6,646.77 L232.6,646.77 L234.6,646.77 L236.6,646.77 L238.6,646.77 L240.6,646.77 L242.6,646.77 L244.6,646.77 L246.6,646.78 L248.6,646.78 L250.6,646.78 L252.6,646.79 L254.6,646.80 L256.6,646.80 L258.6,646.81 L260.6,646.82 L262.6,646.82 L264.6,646.83 L266.6,646.84 L268.6,646.85 L270.6,646.87 L272.6,646.88 L274.6,646.89 L276.6,646.90 L278.6,646.92 L280.6,646.93 L282.6,646.95 L284.6,646.96 L286.6,646.98 L288.6,647.00 L290.6,647.02 L292.6,647.04 L294.6,647.06 L296.6,647.08 L298.6,647.10 L300.6,647.12 L302.6,647.14 L304.6,647.17 L306.6,647.19 L308.6,647.22 L310.6,647.24 L312.6,647.27 L314.6,647.30 L316.6,647.33 L318.6,647.36 L320.6,647.39 L322.6,647.42 L324.6,647.45 L326.6,647.48 L328.6,647.52 L330.6,647.55 L332.6,647.59 L334.6,647.62 L336.6,647.66 L338.6,647.70 L340.6,647.73 L342.6,647.77 L344.6,647.81 L346.6,647.85 L348.6,647.89 L350.6,647.94 L352.6,647.98 L354.6,648.02 L356.6,648.07 L358.6,648.12 L360.6,648.16 L362.6,648.21 L364.6,648.26 L366.6,648.31 L368.6,648.36 L370.6,648.41 L372.6,648.46 L374.6,648.52 L376.6,648.57 L378.6,648.62 L380.6,648.68 L382.6,648.74 L384.6,648.79 L386.6,648.85 L388.6,648.91 L390.6,648.97 L392.6,649.03 L394.6,649.10 L396.6,649.16 L398.6,649.22 L400.6,649.29 L402.6,649.35 L404.6,649.42 L406.6,649.49 L408.6,649.56 L410.6,649.63 L412.6,649.70 L414.6,649.77 L416.6,649.84 L418.6,649.91 L420.6,649.99 L422.6,650.06 L424.6,650.14 L426.6,650.22 L428.6,650.30 L430.6,650.38 L432.6,650.46 L434.6,650.54 L436.6,650.62 L438.6,650.70 L440.6,650.79 L442.6,650.87 L444.6,650.96 L446.6,651.05 L448.6,651.14 L450.6,651.23 L452.6,651.32 L454.6,651.41 L456.6,651.51 L458.6,651.61 L460.6,651.71 L462.6,651.81 L464.6,651.91 L466.6,652.02 L468.6,652.13 L470.6,652.24 L472.6,652.35 L474.6,652.47 L476.6,652.58 L478.6,652.71 L480.6,652.83 L482.6,652.96 L484.6,653.09 L486.6,653.23 L488.6,653.36 L490.6,653.50 L492.6,653.65 L494.6,653.80 L496.6,653.95 L498.6,654.11 L500.6,654.27 L502.6,654.43 L504.6,654.60 L506.6,654.78 L508.6,654.96 L510.6,655.14 L512.6,655.33 L514.6,655.52 L516.6,655.72 L518.6,655.92 L520.6,656.13 L522.6,656.34 L524.6,656.56 L526.6,656.78 L528.6,657.01 L530.6,657.24 L532.6,657.49 L534.6,657.73 L536.6,657.98 L538.6,658.24 L540.6,658.51 L542.6,658.78 L544.6,659.06 L546.6,659.34 L548.6,659.63 L550.6,659.93 L552.6,660.23 L554.6,660.54 L556.6,660.86 L558.6,661.19 L560.6,661.52 L562.6,661.86 L564.6,662.21 L566.6,662.56 L568.6,662.93 L570.6,663.30 L572.6,663.67 L574.6,664.06 L576.6,664.46 L578.6,664.86 L580.6,665.27 L582.6,665.69 L584.6,666.12 L586.6,666.55 L588.6,667.00 L590.6,667.45 L592.6,667.92 L594.6,668.39 L596.6,668.87 L598.6,669.36 L600.6,669.86 L602.6,670.37 L604.6,670.89 L606.6,671.42 L608.6,671.96 L610.6,672.51 L612.6,673.07 L614.6,673.64 L616.6,674.21 L618.6,674.80 L620.6,675.40 L622.6,676.01 L624.6,676.64 L626.6,677.27 L628.6,677.91 L630.6,678.56 L632.6,679.23 L634.6,679.90 L636.6,680.59 L638.6,681.29 L640.6,682.00 L642.6,682.72 L644.6,683.46 L646.6,684.20 L648.6,684.96 L650.6,685.73 L652.6,686.51 L654.6,687.30 L656.6,688.11 L658.6,688.93 L660.6,689.76 L662.6,690.60 L664.6,691.46 L666.6,692.33 L668.6,693.22 L670.6,694.11 L672.6,695.03 L674.6,695.95 L676.6,696.89 L678.6,697.84 L680.6,698.81 L682.6,699.80 L684.6,700.79 L686.6,701.81 L688.6,702.83 L690.6,703.88 L692.6,704.94 L694.6,706.01 L696.6,707.10 L698.6,708.21 L700.6,709.33 L702.6,710.47 L704.6,711.62 L706.6,712.79 L708.6,713.98 L710.6,715.19 L712.6,716.41 L714.6,717.65 L716.6,718.91 L718.6,720.18 L720.6,721.48 L722.6,722.79 L724.6,724.12 L726.6,725.46 L728.6,726.83 L730.6,728.22 L732.6,729.62 L734.6,731.04 L736.6,732.49 L738.6,733.95 L740.6,735.43 L742.6,736.93 L744.6,738.45 L746.6,739.99 L748.6,741.55 L750.6,743.12 L752.6,744.72 L754.6,746.33 L756.6,747.96 L758.6,749.60 L760.6,751.27 L762.6,752.95 L764.6,754.64 L766.6,756.35 L768.6,758.08 L770.6,759.82 L772.6,761.58 L774.6,763.35 L776.6,765.14 L778.6,766.94 L780.6,768.76 L782.6,770.58 L784.6,772.42 L786.6,774.28 L788.6,776.15 L790.6,778.03 L792.6,779.92 L794.6,781.82 L796.6,783.73 L798.6,785.66 L800.6,787.60 L802.6,789.54 L804.6,791.50 L806.6,793.47 L808.6,795.44 L810.6,797.43 L812.6,799.42 L814.6,801.43 L816.6,803.44 L818.6,805.46 L820.6,807.49 L822.6,809.52 L824.6,811.57 L826.6,813.61 L828.6,815.67 L830.6,817.73 L832.6,819.80 L834.6,821.88 L836.6,823.96 L838.6,826.04 L840.6,828.13 L842.6,830.22 L844.6,832.32 L846.6,834.42 L848.6,836.52 L850.6,838.62 L852.6,840.72 L854.6,842.82 L856.6,844.93 L858.6,847.03 L860.6,849.13 L862.6,851.23 L864.6,853.33 L866.6,855.42 L868.6,857.51 L870.6,859.59 L872.6,861.67 L874.6,863.75 L876.6,865.82 L878.6,867.88 L880.6,869.94 L882.6,871.98 L884.6,874.02 L886.6,876.05 L888.6,878.07 L890.6,880.08 L892.6,882.08 L894.6,884.07 L896.6,886.05 L898.6,888.02 L900.6,889.97 L902.6,891.91 L904.6,893.84 L906.6,895.75 L908.6,897.65 L910.6,899.54 L912.6,901.41 L914.6,903.26 L916.6,905.10 L918.6,906.92 L920.6,908.73 L922.6,910.51 L924.6,912.29 L926.6,914.04 L928.6,915.78 L930.6,917.50 L932.6,919.20 L934.6,920.88 L936.6,922.55 L938.6,924.20 L940.6,925.82 L942.6,927.43 L944.6,929.02 L946.6,930.59 L948.6,932.14 L950.6,933.67 L952.6,935.19 L954.6,936.67 L956.6,938.14 L958.6,939.59 L960.6,941.02 L962.6,942.42 L964.6,943.81 L966.6,945.17 L968.6,946.51 L970.6,947.83 L972.6,949.13 L974.6,950.41 L976.6,951.67 L978.6,952.91 L980.6,954.14 L982.6,955.34 L984.6,956.52 L986.6,957.68 L988.6,958.83 L990.6,959.95 L992.6,961.06 L994.6,962.15 L996.6,963.22 L998.6,964.27 L1000.6,965.31 L1002.6,966.32 L1004.6,967.32 L1006.6,968.31 L1008.6,969.27 L1010.6,970.23 L1012.6,971.16 L1014.6,972.08 L1016.6,972.98 L1018.6,973.86 L1020.6,974.74 L1022.6,975.59 L1024.6,976.43 L1026.6,977.26 L1028.6,978.07 L1030.6,978.86 L1032.6,979.64 L1034.6,980.41 L1036.6,981.16 L1038.6,981.90 L1040.6,982.63 L1042.6,983.34 L1044.6,984.04 L1046.6,984.73 L1048.6,985.40 L1050.6,986.07 L1052.6,986.72 L1054.6,987.35 L1056.6,987.98 L1058.6,988.59 L1060.6,989.20 L1062.6,989.79 L1064.6,990.37 L1066.6,990.94 L1068.6,991.50 L1070.6,992.05 L1072.6,992.58 L1074.6,993.11 L1076.6,993.63 L1078.6,994.14 L1080.6,994.64 L1082.6,995.13 L1084.6,995.61 L1086.6,996.08 L1088.6,996.55 L1090.6,997.00 L1092.6,997.45 L1094.6,997.89 L1096.6,998.32 L1098.6,998.75 L1100.6,999.17 L1102.6,999.58 L1104.6,999.98 L1106.6,1000.38 L1108.6,1000.77 L1110.6,1001.15 L1112.6,1001.53 L1114.6,1001.90 L1116.6,1002.27 L1118.6,1002.63 L1120.6,1002.98 L1122.6,1003.33 L1124.6,1003.68 L1126.6,1004.02 L1128.6,1004.36 L1130.6,1004.69 L1132.6,1005.01 L1134.6,1005.33 L1136.6,1005.65 L1138.6,1005.96 L1140.6,1006.27 L1142.6,1006.57 L1144.6,1006.87 L1146.6,1007.17 L1148.6,1007.45 L1150.6,1007.74 L1152.6,1008.02 L1154.6,1008.30 L1156.6,1008.57 L1158.6,1008.83 L1160.6,1009.10 L1162.6,1009.35 L1164.6,1009.61 L1166.6,1009.86 L1168.6,1010.10 L1170.6,1010.35 L1172.6,1010.58 L1174.6,1010.82 L1176.6,1011.05 L1178.6,1011.27 L1180.6,1011.49 L1182.6,1011.71 L1184.6,1011.92 L1186.6,1012.13 L1188.6,1012.34 L1190.6,1012.54 L1192.6,1012.74 L1194.6,1012.94 L1196.6,1013.13 L1198.6,1013.31 L1200.6,1013.50 L1202.6,1013.68 L1204.6,1013.85 L1206.6,1014.03 L1208.6,1014.19 L1210.6,1014.36 L1212.6,1014.52 L1214.6,1014.68 L1216.6,1014.84 L1218.6,1014.99 L1220.6,1015.14 L1222.6,1015.28 L1224.6,1015.42 L1226.6,1015.56 L1228.6,1015.70 L1230.6,1015.83 L1232.6,1015.96 L1234.6,1016.09 L1236.6,1016.21 L1238.6,1016.33 L1240.6,1016.45 L1242.6,1016.56 L1244.6,1016.68 L1246.6,1016.78 L1248.6,1016.89 L1250.6,1016.99 L1252.6,1017.09 L1254.6,1017.19 L1256.6,1017.29 L1258.6,1017.38 L1260.6,1017.47 L1262.6,1017.55 L1264.6,1017.64 L1266.6,1017.72 L1268.6,1017.80 L1270.6,1017.88 L1272.6,1017.95 L1274.6,1018.02 L1276.6,1018.09 L1278.6,1018.16 L1280.6,1018.22 L1282.6,1018.29 L1284.6,1018.35 L1286.6,1018.40 L1288.6,1018.46 L1290.6,1018.51 L1292.6,1018.56 L1294.6,1018.61 L1296.6,1018.66 L1298.6,1018.71 L1300.6,1018.75 L1302.6,1018.79 L1304.6,1018.83 L1306.6,1018.87 L1308.6,1018.90 L1310.6,1018.94 L1312.6,1018.97 L1314.6,1019.00 L1316.6,1019.03 L1318.6,1019.06 L1320.6,1019.08 L1322.6,1019.11 L1324.6,1019.13 L1326.6,1019.15 L1328.6,1019.17 L1330.6,1019.19 L1332.6,1019.20 L1334.6,1019.22 L1336.6,1019.23 L1338.6,1019.24 L1340.6,1019.25 L1342.6,1019.26 L1344.6,1019.27 L1346.6,1019.28 L1348.6,1019.28 L1350.6,1019.29 L1352.6,1019.29 L1354.6,1019.30 L1356.6,1019.30 L1358.6,1019.30 L1360.6,1019.30 L1362.6,1019.29 L1364.6,1019.29 L1366.6,1019.29 L1368.6,1019.28 L1370.6,1019.28 L1372.6,1019.27 L1374.6,1019.27 L1376.6,1019.26 L1378.6,1019.25 L1380.6,1019.24 L1382.6,1019.23 L1384.6,1019.23 L1386.6,1019.21 L1388.6,1019.20 L1390.6,1019.19 L1392.6,1019.18 L1394.6,1019.17 L1396.6,1019.16 L1398.6,1019.14 L1400.6,1019.13 L1402.6,1019.12 L1404.6,1019.10 L1406.6,1019.09 L1408.6,1019.07 L1410.6,1019.06 L1412.6,1019.05 L1414.6,1019.03 L1416.6,1019.02 L1418.6,1019.00 L1420.6,1018.99 L1422.6,1018.97 L1424.6,1018.96 L1426.6,1018.94 L1428.6,1018.93 L1430.6,1018.92 L1432.6,1018.90 L1434.6,1018.89 L1436.6,1018.88 L1438.6,1018.86 L1440.6,1018.85 L1442.6,1018.84 L1444.6,1018.83 L1446.6,1018.82 L1448.6,1018.80 L1450.6,1018.79 L1452.6,1018.78 L1454.6,1018.78 L1456.6,1018.77 L1458.6,1018.76 L1460.6,1018.75 L1462.6,1018.75 L1464.6,1018.74 L1466.6,1018.74 L1468.6,1018.73 L1470.6,1018.73 L1472.6,1018.73 L1474.6,1018.72 L1476.6,1018.72 L1478.6,1018.72 L1480.6,1018.73 L1482.6,1018.73 L1484.6,1018.73 L1486.6,1018.74 L1488.6,1018.74 L1490.6,1018.75 L1492.6,1018.76 L1494.6,1018.77 L1496.6,1018.78 L1498.6,1018.79 L1500.6,1018.80 L1502.6,1018.82 L1504.6,1018.83 L1506.6,1018.85 L1508.6,1018.87 L1510.6,1018.89 L1512.6,1018.91 L1514.6,1018.94 L1516.6,1018.96 L1518.6,1018.99 L1520.6,1019.02 L1522.6,1019.05 L1524.6,1019.08 L1526.6,1019.12 L1528.6,1019.15 L1530.6,1019.19 L1532.6,1019.23 L1534.6,1019.27 L1536.6,1019.32 L1538.6,1019.36 L1540.6,1019.41 L1542.6,1019.46 L1544.6,1019.51 L1546.6,1019.56 L1548.6,1019.62 L1550.6,1019.68 L1552.6,1019.74 L1554.6,1019.80 L1556.6,1019.87 L1558.6,1019.93 L1560.6,1020.00 L1562.6,1020.07 L1564.6,1020.15 L1566.6,1020.23 L1568.6,1020.30 L1570.6,1020.39 L1572.6,1020.47 L1574.6,1020.56 L1576.6,1020.65 L1578.6,1020.74 L1580.6,1020.83 L1582.6,1020.93 L1584.6,1021.03 L1586.6,1021.14 L1588.6,1021.24 L1590.6,1021.35 L1592.6,1021.46 L1594.6,1021.58 L1596.6,1021.69 L1598.6,1021.81 L1600.6,1021.94 L1602.2,1022.04" fill="none" stroke="#2434aa" stroke-width="3"/>
<path d="M182.6,319.24 L183.6,319.24 L184.6,319.24 L185.6,319.24 L186.6,319.24 L187.6,319.24 L188.6,319.24 L189.6,319.24 L190.6,319.24 L191.6,319.24 L192.6,319.24 L193.6,319.24 L194.6,319.24 L195.6,319.24 L196.6,319.25 L197.6,319.25 L198.6,319.25 L199.6,319.25 L200.6,319.25 L201.6,319.25 L202.6,319.25 L203.6,319.25 L204.6,319.25 L205.6,319.25 L206.6,319.25 L207.6,319.25 L208.6,319.25 L209.6,319.25 L210.6,319.25 L211.6,319.25 L212.6,319.25 L213.6,319.25 L214.6,319.25 L215.6,319.25 L216.6,319.25 L217.6,319.25 L218.6,319.25 L219.6,319.25 L220.6,319.25 L221.6,319.25 L222.6,319.25 L223.6,319.25 L224.6,319.25 L225.6,319.25 L226.6,319.25 L227.6,319.25 L228.6,319.25 L229.6,319.25 L230.6,319.25 L231.6,319.25 L232.6,319.25 L233.6,319.25 L234.6,319.26 L235.6,319.26 L236.6,319.26 L237.6,319.26 L238.6,319.26 L239.6,319.26 L240.6,319.26 L241.6,319.26 L242.6,319.26 L243.6,319.26 L244.6,319.26 L245.6,319.26 L246.6,319.26 L247.6,319.26 L248.6,319.26 L249.6,319.26 L250.6,319.26 L251.6,319.26 L252.6,319.26 L253.6,319.26 L254.6,319.26 L255.6,319.26 L256.6,319.26 L257.6,319.26 L258.6,319.26 L259.6,319.26 L260.6,319.27 L261.6,319.27 L262.6,319.27 L263.6,319.27 L264.6,319.27 L265.6,319.27 L266.6,319.27 L267.6,319.27 L268.6,319.27 L269.6,319.27 L270.6,319.27 L271.6,319.27 L272.6,319.27 L273.6,319.27 L274.6,319.27 L275.6,319.27 L276.6,319.27 L277.6,319.27 L278.6,319.27 L279.6,319.27 L280.6,319.28 L281.6,319.28 L282.6,319.28 L283.6,319.28 L284.6,319.28 L285.6,319.28 L286.6,319.28 L287.6,319.28 L288.6,319.28 L289.6,319.28 L290.6,319.28 L291.6,319.28 L292.6,319.28 L293.6,319.28 L294.6,319.28 L295.6,319.28 L296.6,319.29 L297.6,319.29 L298.6,319.29 L299.6,319.29 L300.6,319.29 L301.6,319.29 L302.6,319.29 L303.6,319.29 L304.6,319.29 L305.6,319.29 L306.6,319.29 L307.6,319.29 L308.6,319.29 L309.6,319.29 L310.6,319.30 L311.6,319.30 L312.6,319.30 L313.6,319.30 L314.6,319.30 L315.6,319.30 L316.6,319.30 L317.6,319.30 L318.6,319.30 L319.6,319.30 L320.6,319.30 L321.6,319.30 L322.6,319.31 L323.6,319.31 L324.6,319.31 L325.6,319.31 L326.6,319.31 L327.6,319.31 L328.6,319.31 L329.6,319.31 L330.6,319.31 L331.6,319.31 L332.6,319.32 L333.6,319.32 L334.6,319.32 L335.6,319.32 L336.6,319.32 L337.6,319.32 L338.6,319.32 L339.6,319.32 L340.6,319.32 L341.6,319.32 L342.6,319.33 L343.6,319.33 L344.6,319.33 L345.6,319.33 L346.6,319.33 L347.6,319.33 L348.6,319.33 L349.6,319.33 L350.6,319.34 L351.6,319.34 L352.6,319.34 L353.6,319.34 L354.6,319.34 L355.6,319.34 L356.6,319.34 L357.6,319.34 L358.6,319.35 L359.6,319.35 L360.6,319.35 L361.6,319.35 L362.6,319.35 L363.6,319.35 L364.6,319.35 L365.6,319.36 L366.6,319.36 L367.6,319.36 L368.6,319.36 L369.6,319.36 L370.6,319.36 L371.6,319.36 L372.6,319.37 L373.6,319.37 L374.6,319.37 L375.6,319.37 L376.6,319.37 L377.6,319.37 L378.6,319.38 L379.6,319.38 L380.6,319.38 L381.6,319.38 L382.6,319.38 L383.6,319.39 L384.6,319.39 L385.6,319.39 L386.6,319.39 L387.6,319.39 L388.6,319.39 L389.6,319.40 L390.6,319.40 L391.6,319.40 L392.6,319.40 L393.6,319.40 L394.6,319.41 L395.6,319.41 L396.6,319.41 L397.6,319.41 L398.6,319.42 L399.6,319.42 L400.6,319.42 L401.6,319.42 L402.6,319.42 L403.6,319.43 L404.6,319.43 L405.6,319.43 L406.6,319.43 L407.6,319.44 L408.6,319.44 L409.6,319.44 L410.6,319.44 L411.6,319.45 L412.6,319.45 L413.6,319.45 L414.6,319.45 L415.6,319.46 L416.6,319.46 L417.6,319.46 L418.6,319.46 L419.6,319.47 L420.6,319.47 L421.6,319.47 L422.6,319.47 L423.6,319.48 L424.6,319.48 L425.6,319.48 L426.6,319.49 L427.6,319.49 L428.6,319.49 L429.6,319.50 L430.6,319.50 L431.6,319.50 L432.6,319.50 L433.6,319.51 L434.6,319.51 L435.6,319.51 L436.6,319.52 L437.6,319.52 L438.6,319.52 L439.6,319.53 L440.6,319.53 L441.6,319.54 L442.6,319.54 L443.6,319.54 L444.6,319.55 L445.6,319.55 L446.6,319.55 L447.6,319.56 L448.6,319.56 L449.6,319.56 L450.6,319.57 L451.6,319.57 L452.6,319.58 L453.6,319.58 L454.6,319.58 L455.6,319.59 L456.6,319.59 L457.6,319.60 L458.6,319.60 L459.6,319.61 L460.6,319.61 L461.6,319.61 L462.6,319.62 L463.6,319.62 L464.6,319.63 L465.6,319.63 L466.6,319.64 L467.6,319.64 L468.6,319.65 L469.6,319.65 L470.6,319.66 L471.6,319.66 L472.6,319.67 L473.6,319.67 L474.6,319.68 L475.6,319.68 L476.6,319.69 L477.6,319.69 L478.6,319.70 L479.6,319.70 L480.6,319.71 L481.6,319.71 L482.6,319.72 L483.6,319.73 L484.6,319.73 L485.6,319.74 L486.6,319.74 L487.6,319.75 L488.6,319.75 L489.6,319.76 L490.6,319.77 L491.6,319.77 L492.6,319.78 L493.6,319.79 L494.6,319.79 L495.6,319.80 L496.6,319.81 L497.6,319.81 L498.6,319.82 L499.6,319.83 L500.6,319.83 L501.6,319.84 L502.6,319.85 L503.6,319.85 L504.6,319.86 L505.6,319.87 L506.6,319.88 L507.6,319.88 L508.6,319.89 L509.6,319.90 L510.6,319.91 L511.6,319.91 L512.6,319.92 L513.6,319.93 L514.6,319.94 L515.6,319.95 L516.6,319.95 L517.6,319.96 L518.6,319.97 L519.6,319.98 L520.6,319.99 L521.6,320.00 L522.6,320.01 L523.6,320.01 L524.6,320.02 L525.6,320.03 L526.6,320.04 L527.6,320.05 L528.6,320.06 L529.6,320.07 L530.6,320.08 L531.6,320.09 L532.6,320.10 L533.6,320.11 L534.6,320.12 L535.6,320.13 L536.6,320.14 L537.6,320.15 L538.6,320.16 L539.6,320.17 L540.6,320.18 L541.6,320.20 L542.6,320.21 L543.6,320.22 L544.6,320.23 L545.6,320.24 L546.6,320.25 L547.6,320.26 L548.6,320.28 L549.6,320.29 L550.6,320.30 L551.6,320.31 L552.6,320.33 L553.6,320.34 L554.6,320.35 L555.6,320.36 L556.6,320.38 L557.6,320.39 L558.6,320.40 L559.6,320.42 L560.6,320.43 L561.6,320.44 L562.6,320.46 L563.6,320.47 L564.6,320.49 L565.6,320.50 L566.6,320.52 L567.6,320.53 L568.6,320.55 L569.6,320.56 L570.6,320.58 L571.6,320.59 L572.6,320.61 L573.6,320.62 L574.6,320.64 L575.6,320.66 L576.6,320.67 L577.6,320.69 L578.6,320.71 L579.6,320.72 L580.6,320.74 L581.6,320.76 L582.6,320.77 L583.6,320.79 L584.6,320.81 L585.6,320.83 L586.6,320.85 L587.6,320.87 L588.6,320.88 L589.6,320.90 L590.6,320.92 L591.6,320.94 L592.6,320.96 L593.6,320.98 L594.6,321.00 L595.6,321.02 L596.6,321.04 L597.6,321.06 L598.6,321.08 L599.6,321.11 L600.6,321.13 L601.6,321.15 L602.6,321.17 L603.6,321.19 L604.6,321.22 L605.6,321.24 L606.6,321.26 L607.6,321.29 L608.6,321.31 L609.6,321.33 L610.6,321.36 L611.6,321.38 L612.6,321.41 L613.6,321.43 L614.6,321.46 L615.6,321.48 L616.6,321.51 L617.6,321.53 L618.6,321.56 L619.6,321.59 L620.6,321.62 L621.6,321.64 L622.6,321.67 L623.6,321.70 L624.6,321.73 L625.6,321.76 L626.6,321.78 L627.6,321.81 L628.6,321.84 L629.6,321.87 L630.6,321.90 L631.6,321.93 L632.6,321.97 L633.6,322.00 L634.6,322.03 L635.6,322.06 L636.6,322.09 L637.6,322.13 L638.6,322.16 L639.6,322.19 L640.6,322.23 L641.6,322.26 L642.6,322.30 L643.6,322.33 L644.6,322.37 L645.6,322.40 L646.6,322.44 L647.6,322.48 L648.6,322.51 L649.6,322.55 L650.6,322.59 L651.6,322.63 L652.6,322.67 L653.6,322.71 L654.6,322.75 L655.6,322.79 L656.6,322.83 L657.6,322.87 L658.6,322.91 L659.6,322.95 L660.6,323.00 L661.6,323.04 L662.6,323.08 L663.6,323.13 L664.6,323.17 L665.6,323.22 L666.6,323.26 L667.6,323.31 L668.6,323.36 L669.6,323.40 L670.6,323.45 L671.6,323.50 L672.6,323.55 L673.6,323.60 L674.6,323.65 L675.6,323.70 L676.6,323.75 L677.6,323.80 L678.6,323.85 L679.6,323.91 L680.6,323.96 L681.6,324.01 L682.6,324.07 L683.6,324.12 L684.6,324.18 L685.6,324.24 L686.6,324.29 L687.6,324.35 L688.6,324.41 L689.6,324.47 L690.6,324.53 L691.6,324.59 L692.6,324.65 L693.6,324.71 L694.6,324.78 L695.6,324.84 L696.6,324.90 L697.6,324.97 L698.6,325.03 L699.6,325.10 L700.6,325.17 L701.6,325.23 L702.6,325.30 L703.6,325.37 L704.6,325.44 L705.6,325.51 L706.6,325.59 L707.6,325.66 L708.6,325.73 L709.6,325.81 L710.6,325.88 L711.6,325.96 L712.6,326.03 L713.6,326.11 L714.6,326.19 L715.6,326.27 L716.6,326.35 L717.6,326.43 L718.6,326.51 L719.6,326.60 L720.6,326.68 L721.6,326.76 L722.6,326.85 L723.6,326.94 L724.6,327.02 L725.6,327.11 L726.6,327.20 L727.6,327.29 L728.6,327.39 L729.6,327.48 L730.6,327.57 L731.6,327.67 L732.6,327.76 L733.6,327.86 L734.6,327.96 L735.6,328.06 L736.6,328.16 L737.6,328.26 L738.6,328.36 L739.6,328.47 L740.6,328.57 L741.6,328.68 L742.6,328.79 L743.6,328.89 L744.6,329.00 L745.6,329.11 L746.6,329.23 L747.6,329.34 L748.6,329.46 L749.6,329.57 L750.6,329.69 L751.6,329.81 L752.6,329.93 L753.6,330.05 L754.6,330.17 L755.6,330.30 L756.6,330.42 L757.6,330.55 L758.6,330.68 L759.6,330.81 L760.6,330.94 L761.6,331.07 L762.6,331.20 L763.6,331.34 L764.6,331.48 L765.6,331.61 L766.6,331.75 L767.6,331.90 L768.6,332.04 L769.6,332.18 L770.6,332.33 L771.6,332.48 L772.6,332.63 L773.6,332.78 L774.6,332.93 L775.6,333.09 L776.6,333.24 L777.6,333.40 L778.6,333.56 L779.6,333.72 L780.6,333.89 L781.6,334.05 L782.6,334.22 L783.6,334.39 L784.6,334.56 L785.6,334.73 L786.6,334.91 L787.6,335.08 L788.6,335.26 L789.6,335.44 L790.6,335.62 L791.6,335.81 L792.6,336.00 L793.6,336.18 L794.6,336.37 L795.6,336.57 L796.6,336.76 L797.6,336.96 L798.6,337.16 L799.6,337.36 L800.6,337.56 L801.6,337.77 L802.6,337.97 L803.6,338.19 L804.6,338.40 L805.6,338.61 L806.6,338.83 L807.6,339.05 L808.6,339.27 L809.6,339.49 L810.6,339.72 L811.6,339.95 L812.6,340.18 L813.6,340.42 L814.6,340.65 L815.6,340.89 L816.6,341.13 L817.6,341.38 L818.6,341.62 L819.6,341.87 L820.6,342.13 L821.6,342.38 L822.6,342.64 L823.6,342.90 L824.6,343.16 L825.6,343.43 L826.6,343.70 L827.6,343.97 L828.6,344.24 L829.6,344.52 L830.6,344.80 L831.6,345.09 L832.6,345.37 L833.6,345.66 L834.6,345.96 L835.6,346.25 L836.6,346.55 L837.6,346.85 L838.6,347.16 L839.6,347.47 L840.6,347.78 L841.6,348.09 L842.6,348.41 L843.6,348.73 L844.6,349.06 L845.6,349.39 L846.6,349.72 L847.6,350.06 L848.6,350.40 L849.6,350.74 L850.6,351.08 L851.6,351.43 L852.6,351.79 L853.6,352.15 L854.6,352.51 L855.6,352.87 L856.6,353.24 L857.6,353.61 L858.6,353.99 L859.6,354.37 L860.6,354.75 L861.6,355.14 L862.6,355.53 L863.6,355.93 L864.6,356.33 L865.6,356.73 L866.6,357.14 L867.6,357.56 L868.6,357.97 L869.6,358.39 L870.6,358.82 L871.6,359.25 L872.6,359.68 L873.6,360.12 L874.6,360.57 L875.6,361.01 L876.6,361.47 L877.6,361.92 L878.6,362.38 L879.6,362.85 L880.6,363.32 L881.6,363.80 L882.6,364.28 L883.6,364.76 L884.6,365.25 L885.6,365.75 L886.6,366.25 L887.6,366.75 L888.6,367.26 L889.6,367.77 L890.6,368.29 L891.6,368.82 L892.6,369.35 L893.6,369.88 L894.6,370.43 L895.6,370.97 L896.6,371.52 L897.6,372.08 L898.6,372.64 L899.6,373.21 L900.6,373.78 L901.6,374.36 L902.6,374.95 L903.6,375.54 L904.6,376.13 L905.6,376.73 L906.6,377.34 L907.6,377.95 L908.6,378.57 L909.6,379.20 L910.6,379.83 L911.6,380.46 L912.6,381.11 L913.6,381.76 L914.6,382.41 L915.6,383.07 L916.6,383.74 L917.6,384.41 L918.6,385.09 L919.6,385.78 L920.6,386.47 L921.6,387.17 L922.6,387.88 L923.6,388.59 L924.6,389.31 L925.6,390.03 L926.6,390.77 L927.6,391.50 L928.6,392.25 L929.6,393.00 L930.6,393.76 L931.6,394.53 L932.6,395.30 L933.6,396.08 L934.6,396.87 L935.6,397.66 L936.6,398.46 L937.6,399.27 L938.6,400.08 L939.6,400.91 L940.6,401.74 L941.6,402.57 L942.6,403.42 L943.6,404.27 L944.6,405.13 L945.6,405.99 L946.6,406.87 L947.6,407.75 L948.6,408.64 L949.6,409.54 L950.6,410.44 L951.6,411.35 L952.6,412.27 L953.6,413.20 L954.6,414.13 L955.6,415.08 L956.6,416.03 L957.6,416.99 L958.6,417.95 L959.6,418.93 L960.6,419.91 L961.6,420.90 L962.6,421.90 L963.6,422.91 L964.6,423.92 L965.6,424.95 L966.6,425.98 L967.6,427.02 L968.6,428.07 L969.6,429.12 L970.6,430.19 L971.6,431.26 L972.6,432.34 L973.6,433.43 L974.6,434.53 L975.6,435.64 L976.6,436.75 L977.6,437.88 L978.6,439.01 L979.6,440.15 L980.6,441.30 L981.6,442.46 L982.6,443.62 L983.6,444.80 L984.6,445.98 L985.6,447.18 L986.6,448.38 L987.6,449.59 L988.6,450.81 L989.6,452.03 L990.6,453.27 L991.6,454.51 L992.6,455.77 L993.6,457.03 L994.6,458.30 L995.6,459.58 L996.6,460.87 L997.6,462.17 L998.6,463.48 L999.6,464.79 L1000.6,466.11 L1001.6,467.45 L1002.6,468.79 L1003.6,470.14 L1004.6,471.50 L1005.6,472.87 L1006.6,474.24 L1007.6,475.63 L1008.6,477.02 L1009.6,478.43 L1010.6,479.84 L1011.6,481.26 L1012.6,482.69 L1013.6,484.13 L1014.6,485.58 L1015.6,487.03 L1016.6,488.50 L1017.6,489.97 L1018.6,491.45 L1019.6,492.94 L1020.6,494.44 L1021.6,495.95 L1022.6,497.47 L1023.6,498.99 L1024.6,500.52 L1025.6,502.07 L1026.6,503.62 L1027.6,505.17 L1028.6,506.74 L1029.6,508.32 L1030.6,509.90 L1031.6,511.49 L1032.6,513.09 L1033.6,514.70 L1034.6,516.32 L1035.6,517.94 L1036.6,519.57 L1037.6,521.21 L1038.6,522.86 L1039.6,524.52 L1040.6,526.18 L1041.6,527.86 L1042.6,529.54 L1043.6,531.22 L1044.6,532.92 L1045.6,534.62 L1046.6,536.33 L1047.6,538.05 L1048.6,539.77 L1049.6,541.50 L1050.6,543.24 L1051.6,544.99 L1052.6,546.74 L1053.6,548.51 L1054.6,550.27 L1055.6,552.05 L1056.6,553.83 L1057.6,555.62 L1058.6,557.41 L1059.6,559.21 L1060.6,561.02 L1061.6,562.83 L1062.6,564.65 L1063.6,566.48 L1064.6,568.31 L1065.6,570.15 L1066.6,572.00 L1067.6,573.85 L1068.6,575.70 L1069.6,577.57 L1070.6,579.43 L1071.6,581.31 L1072.6,583.19 L1073.6,585.07 L1074.6,586.96 L1075.6,588.85 L1076.6,590.75 L1077.6,592.65 L1078.6,594.56 L1079.6,596.48 L1080.6,598.39 L1081.6,600.32 L1082.6,602.24 L1083.6,604.17 L1084.6,606.11 L1085.6,608.05 L1086.6,609.99 L1087.6,611.94 L1088.6,613.89 L1089.6,615.84 L1090.6,617.80 L1091.6,619.76 L1092.6,621.72 L1093.6,623.68 L1094.6,625.65 L1095.6,627.63 L1096.6,629.60 L1097.6,631.58 L1098.6,633.56 L1099.6,635.54 L1100.6,637.52 L1101.6,639.51 L1102.6,641.50 L1103.6,643.49 L1104.6,645.48 L1105.6,647.47 L1106.6,649.46 L1107.6,651.46 L1108.6,653.46 L1109.6,655.45 L1110.6,657.45 L1111.6,659.45 L1112.6,661.45 L1113.6,663.45 L1114.6,665.45 L1115.6,667.45 L1116.6,669.45 L1117.6,671.45 L1118.6,673.45 L1119.6,675.45 L1120.6,677.45 L1121.6,679.45 L1122.6,681.45 L1123.6,683.45 L1124.6,685.45 L1125.6,687.44 L1126.6,689.44 L1127.6,691.43 L1128.6,693.42 L1129.6,695.41 L1130.6,697.40 L1131.6,699.39 L1132.6,701.37 L1133.6,703.35 L1134.6,705.33 L1135.6,707.31 L1136.6,709.29 L1137.6,711.26 L1138.6,713.23 L1139.6,715.19 L1140.6,717.16 L1141.6,719.12 L1142.6,721.08 L1143.6,723.03 L1144.6,724.98 L1145.6,726.93 L1146.6,728.87 L1147.6,730.81 L1148.6,732.75 L1149.6,734.68 L1150.6,736.61 L1151.6,738.53 L1152.6,740.45 L1153.6,742.36 L1154.6,744.27 L1155.6,746.18 L1156.6,748.08 L1157.6,749.97 L1158.6,751.86 L1159.6,753.75 L1160.6,755.63 L1161.6,757.50 L1162.6,759.37 L1163.6,761.23 L1164.6,763.09 L1165.6,764.94 L1166.6,766.79 L1167.6,768.63 L1168.6,770.46 L1169.6,772.29 L1170.6,774.11 L1171.6,775.93 L1172.6,777.74 L1173.6,779.54 L1174.6,781.34 L1175.6,783.13 L1176.6,784.91 L1177.6,786.69 L1178.6,788.45 L1179.6,790.22 L1180.6,791.97 L1181.6,793.72 L1182.6,795.46 L1183.6,797.20 L1184.6,798.92 L1185.6,800.64 L1186.6,802.35 L1187.6,804.06 L1188.6,805.75 L1189.6,807.44 L1190.6,809.13 L1191.6,810.80 L1192.6,812.47 L1193.6,814.12 L1194.6,815.77 L1195.6,817.42 L1196.6,819.05 L1197.6,820.68 L1198.6,822.30 L1199.6,823.91 L1200.6,825.51 L1201.6,827.10 L1202.6,828.69 L1203.6,830.26 L1204.6,831.83 L1205.6,833.39 L1206.6,834.95 L1207.6,836.49 L1208.6,838.03 L1209.6,839.55 L1210.6,841.07 L1211.6,842.58 L1212.6,844.08 L1213.6,845.57 L1214.6,847.06 L1215.6,848.53 L1216.6,850.00 L1217.6,851.46 L1218.6,852.91 L1219.6,854.35 L1220.6,855.78 L1221.6,857.20 L1222.6,858.62 L1223.6,860.02 L1224.6,861.42 L1225.6,862.81 L1226.6,864.18 L1227.6,865.56 L1228.6,866.92 L1229.6,868.27 L1230.6,869.61 L1231.6,870.95 L1232.6,872.27 L1233.6,873.59 L1234.6,874.90 L1235.6,876.20 L1236.6,877.49 L1237.6,878.77 L1238.6,880.05 L1239.6,881.31 L1240.6,882.57 L1241.6,883.81 L1242.6,885.05 L1243.6,886.28 L1244.6,887.50 L1245.6,888.71 L1246.6,889.92 L1247.6,891.11 L1248.6,892.30 L1249.6,893.48 L1250.6,894.64 L1251.6,895.80 L1252.6,896.96 L1253.6,898.10 L1254.6,899.23 L1255.6,900.36 L1256.6,901.48 L1257.6,902.58 L1258.6,903.68 L1259.6,904.78 L1260.6,905.86 L1261.6,906.94 L1262.6,908.00 L1263.6,909.06 L1264.6,910.11 L1265.6,911.15 L1266.6,912.19 L1267.6,913.21 L1268.6,914.23 L1269.6,915.24 L1270.6,916.24 L1271.6,917.23 L1272.6,918.22 L1273.6,919.19 L1274.6,920.16 L1275.6,921.12 L1276.6,922.07 L1277.6,923.02 L1278.6,923.96 L1279.6,924.89 L1280.6,925.81 L1281.6,926.72 L1282.6,927.63 L1283.6,928.53 L1284.6,929.42 L1285.6,930.30 L1286.6,931.18 L1287.6,932.04 L1288.6,932.91 L1289.6,933.76 L1290.6,934.60 L1291.6,935.44 L1292.6,936.27 L1293.6,937.10 L1294.6,937.92 L1295.6,938.73 L1296.6,939.53 L1297.6,940.32 L1298.6,941.11 L1299.6,941.89 L1300.6,942.67 L1301.6,943.44 L1302.6,944.20 L1303.6,944.95 L1304.6,945.70 L1305.6,946.44 L1306.6,947.17 L1307.6,947.90 L1308.6,948.62 L1309.6,949.33 L1310.6,950.04 L1311.6,950.74 L1312.6,951.43 L1313.6,952.12 L1314.6,952.80 L1315.6,953.48 L1316.6,954.15 L1317.6,954.81 L1318.6,955.47 L1319.6,956.12 L1320.6,956.76 L1321.6,957.40 L1322.6,958.03 L1323.6,958.66 L1324.6,959.28 L1325.6,959.89 L1326.6,960.50 L1327.6,961.10 L1328.6,961.70 L1329.6,962.29 L1330.6,962.88 L1331.6,963.46 L1332.6,964.03 L1333.6,964.60 L1334.6,965.16 L1335.6,965.72 L1336.6,966.28 L1337.6,966.82 L1338.6,967.36 L1339.6,967.90 L1340.6,968.43 L1341.6,968.96 L1342.6,969.48 L1343.6,970.00 L1344.6,970.51 L1345.6,971.01 L1346.6,971.51 L1347.6,972.01 L1348.6,972.50 L1349.6,972.99 L1350.6,973.47 L1351.6,973.94 L1352.6,974.42 L1353.6,974.88 L1354.6,975.35 L1355.6,975.80 L1356.6,976.26 L1357.6,976.71 L1358.6,977.15 L1359.6,977.59 L1360.6,978.02 L1361.6,978.46 L1362.6,978.88 L1363.6,979.30 L1364.6,979.72 L1365.6,980.14 L1366.6,980.55 L1367.6,980.95 L1368.6,981.35 L1369.6,981.75 L1370.6,982.14 L1371.6,982.53 L1372.6,982.92 L1373.6,983.30 L1374.6,983.67 L1375.6,984.05 L1376.6,984.42 L1377.6,984.78 L1378.6,985.15 L1379.6,985.50 L1380.6,985.86 L1381.6,986.21 L1382.6,986.56 L1383.6,986.90 L1384.6,987.24 L1385.6,987.58 L1386.6,987.91 L1387.6,988.24 L1388.6,988.57 L1389.6,988.89 L1390.6,989.21 L1391.6,989.52 L1392.6,989.84 L1393.6,990.15 L1394.6,990.45 L1395.6,990.75 L1396.6,991.05 L1397.6,991.35 L1398.6,991.64 L1399.6,991.94 L1400.6,992.22 L1401.6,992.51 L1402.6,992.79 L1403.6,993.07 L1404.6,993.34 L1405.6,993.61 L1406.6,993.88 L1407.6,994.15 L1408.6,994.42 L1409.6,994.68 L1410.6,994.93 L1411.6,995.19 L1412.6,995.44 L1413.6,995.69 L1414.6,995.94 L1415.6,996.19 L1416.6,996.43 L1417.6,996.67 L1418.6,996.91 L1419.6,997.14 L1420.6,997.37 L1421.6,997.60 L1422.6,997.83 L1423.6,998.05 L1424.6,998.28 L1425.6,998.50 L1426.6,998.71 L1427.6,998.93 L1428.6,999.14 L1429.6,999.35 L1430.6,999.56 L1431.6,999.77 L1432.6,999.97 L1433.6,1000.17 L1434.6,1000.37 L1435.6,1000.57 L1436.6,1000.76 L1437.6,1000.96 L1438.6,1001.15 L1439.6,1001.34 L1440.6,1001.52 L1441.6,1001.71 L1442.6,1001.89 L1443.6,1002.07 L1444.6,1002.25 L1445.6,1002.43 L1446.6,1002.60 L1447.6,1002.78 L1448.6,1002.95 L1449.6,1003.12 L1450.6,1003.28 L1451.6,1003.45 L1452.6,1003.61 L1453.6,1003.78 L1454.6,1003.94 L1455.6,1004.09 L1456.6,1004.25 L1457.6,1004.41 L1458.6,1004.56 L1459.6,1004.71 L1460.6,1004.86 L1461.6,1005.01 L1462.6,1005.16 L1463.6,1005.30 L1464.6,1005.45 L1465.6,1005.59 L1466.6,1005.73 L1467.6,1005.87 L1468.6,1006.01 L1469.6,1006.14 L1470.6,1006.28 L1471.6,1006.41 L1472.6,1006.54 L1473.6,1006.67 L1474.6,1006.80 L1475.6,1006.93 L1476.6,1007.05 L1477.6,1007.18 L1478.6,1007.30 L1479.6,1007.42 L1480.6,1007.54 L1481.6,1007.66 L1482.6,1007.78 L1483.6,1007.89 L1484.6,1008.01 L1485.6,1008.12 L1486.6,1008.24 L1487.6,1008.35 L1488.6,1008.46 L1489.6,1008.57 L1490.6,1008.67 L1491.6,1008.78 L1492.6,1008.88 L1493.6,1008.99 L1494.6,1009.09 L1495.6,1009.19 L1496.6,1009.29 L1497.6,1009.39 L1498.6,1009.49 L1499.6,1009.59 L1500.6,1009.69 L1501.6,1009.78 L1502.6,1009.88 L1503.6,1009.97 L1504.6,1010.06 L1505.6,1010.15 L1506.6,1010.24 L1507.6,1010.33 L1508.6,1010.42 L1509.6,1010.51 L1510.6,1010.59 L1511.6,1010.68 L1512.6,1010.76 L1513.6,1010.84 L1514.6,1010.93 L1515.6,1011.01 L1516.6,1011.09 L1517.6,1011.17 L1518.6,1011.25 L1519.6,1011.32 L1520.6,1011.40 L1521.6,1011.48 L1522.6,1011.55 L1523.6,1011.63 L1524.6,1011.70 L1525.6,1011.77 L1526.6,1011.85 L1527.6,1011.92 L1528.6,1011.99 L1529.6,1012.06 L1530.6,1012.13 L1531.6,1012.19 L1532.6,1012.26 L1533.6,1012.33 L1534.6,1012.39 L1535.6,1012.46 L1536.6,1012.52 L1537.6,1012.59 L1538.6,1012.65 L1539.6,1012.71 L1540.6,1012.77 L1541.6,1012.83 L1542.6,1012.89 L1543.6,1012.95 L1544.6,1013.01 L1545.6,1013.07 L1546.6,1013.13 L1547.6,1013.18 L1548.6,1013.24 L1549.6,1013.30 L1550.6,1013.35 L1551.6,1013.40 L1552.6,1013.46 L1553.6,1013.51 L1554.6,1013.56 L1555.6,1013.62 L1556.6,1013.67 L1557.6,1013.72 L1558.6,1013.77 L1559.6,1013.82 L1560.6,1013.87 L1561.6,1013.91 L1562.6,1013.96 L1563.6,1014.01 L1564.6,1014.06 L1565.6,1014.10 L1566.6,1014.15 L1567.6,1014.19 L1568.6,1014.24 L1569.6,1014.28 L1570.6,1014.33 L1571.6,1014.37 L1572.6,1014.41 L1573.6,1014.46 L1574.6,1014.50 L1575.6,1014.54 L1576.6,1014.58 L1577.6,1014.62 L1578.6,1014.66 L1579.6,1014.70 L1580.6,1014.74 L1581.6,1014.78 L1582.6,1014.82 L1583.6,1014.85 L1584.6,1014.89 L1585.6,1014.93 L1586.6,1014.96 L1587.6,1015.00 L1588.6,1015.04 L1589.6,1015.07 L1590.6,1015.11 L1591.6,1015.14 L1592.6,1015.17 L1593.6,1015.21 L1594.6,1015.24 L1595.6,1015.27 L1596.6,1015.31 L1597.6,1015.34 L1598.6,1015.37 L1599.6,1015.40 L1600.6,1015.43 L1601.6,1015.46 L1602.2,1015.48" fill="none" stroke="#1c9e22" stroke-width="3.1"/>
<path d="M182.6,67.09 L183.6,67.09 L184.6,67.09 L185.6,67.09 L186.6,67.09 L187.6,67.09 L188.6,67.09 L189.6,67.09 L190.6,67.09 L191.6,67.09 L192.6,67.09 L193.6,67.09 L194.6,67.09 L195.6,67.09 L196.6,67.09 L197.6,67.09 L198.6,67.09 L199.6,67.10 L200.6,67.10 L201.6,67.10 L202.6,67.10 L203.6,67.10 L204.6,67.10 L205.6,67.10 L206.6,67.10 L207.6,67.10 L208.6,67.10 L209.6,67.10 L210.6,67.10 L211.6,67.10 L212.6,67.10 L213.6,67.10 L214.6,67.10 L215.6,67.10 L216.6,67.10 L217.6,67.10 L218.6,67.10 L219.6,67.10 L220.6,67.10 L221.6,67.10 L222.6,67.10 L223.6,67.10 L224.6,67.10 L225.6,67.10 L226.6,67.10 L227.6,67.10 L228.6,67.10 L229.6,67.10 L230.6,67.10 L231.6,67.10 L232.6,67.10 L233.6,67.10 L234.6,67.11 L235.6,67.11 L236.6,67.11 L237.6,67.11 L238.6,67.11 L239.6,67.11 L240.6,67.11 L241.6,67.11 L242.6,67.11 L243.6,67.11 L244.6,67.11 L245.6,67.11 L246.6,67.11 L247.6,67.11 L248.6,67.11 L249.6,67.11 L250.6,67.11 L251.6,67.11 L252.6,67.11 L253.6,67.11 L254.6,67.11 L255.6,67.11 L256.6,67.11 L257.6,67.11 L258.6,67.11 L259.6,67.11 L260.6,67.12 L261.6,67.12 L262.6,67.12 L263.6,67.12 L264.6,67.12 L265.6,67.12 L266.6,67.12 L267.6,67.12 L268.6,67.12 L269.6,67.12 L270.6,67.12 L271.6,67.12 L272.6,67.12 L273.6,67.12 L274.6,67.12 L275.6,67.12 L276.6,67.12 L277.6,67.12 L278.6,67.12 L279.6,67.13 L280.6,67.13 L281.6,67.13 L282.6,67.13 L283.6,67.13 L284.6,67.13 L285.6,67.13 L286.6,67.13 L287.6,67.13 L288.6,67.13 L289.6,67.13 L290.6,67.13 L291.6,67.13 L292.6,67.13 L293.6,67.13 L294.6,67.13 L295.6,67.14 L296.6,67.14 L297.6,67.14 L298.6,67.14 L299.6,67.14 L300.6,67.14 L301.6,67.14 L302.6,67.14 L303.6,67.14 L304.6,67.14 L305.6,67.14 L306.6,67.14 L307.6,67.14 L308.6,67.14 L309.6,67.15 L310.6,67.15 L311.6,67.15 L312.6,67.15 L313.6,67.15 L314.6,67.15 L315.6,67.15 L316.6,67.15 L317.6,67.15 L318.6,67.15 L319.6,67.15 L320.6,67.16 L321.6,67.16 L322.6,67.16 L323.6,67.16 L324.6,67.16 L325.6,67.16 L326.6,67.16 L327.6,67.16 L328.6,67.16 L329.6,67.16 L330.6,67.16 L331.6,67.17 L332.6,67.17 L333.6,67.17 L334.6,67.17 L335.6,67.17 L336.6,67.17 L337.6,67.17 L338.6,67.17 L339.6,67.17 L340.6,67.18 L341.6,67.18 L342.6,67.18 L343.6,67.18 L344.6,67.18 L345.6,67.18 L346.6,67.18 L347.6,67.18 L348.6,67.19 L349.6,67.19 L350.6,67.19 L351.6,67.19 L352.6,67.19 L353.6,67.19 L354.6,67.19 L355.6,67.19 L356.6,67.20 L357.6,67.20 L358.6,67.20 L359.6,67.20 L360.6,67.20 L361.6,67.20 L362.6,67.20 L363.6,67.21 L364.6,67.21 L365.6,67.21 L366.6,67.21 L367.6,67.21 L368.6,67.21 L369.6,67.22 L370.6,67.22 L371.6,67.22 L372.6,67.22 L373.6,67.22 L374.6,67.22 L375.6,67.22 L376.6,67.23 L377.6,67.23 L378.6,67.23 L379.6,67.23 L380.6,67.23 L381.6,67.24 L382.6,67.24 L383.6,67.24 L384.6,67.24 L385.6,67.24 L386.6,67.24 L387.6,67.25 L388.6,67.25 L389.6,67.25 L390.6,67.25 L391.6,67.25 L392.6,67.26 L393.6,67.26 L394.6,67.26 L395.6,67.26 L396.6,67.27 L397.6,67.27 L398.6,67.27 L399.6,67.27 L400.6,67.27 L401.6,67.28 L402.6,67.28 L403.6,67.28 L404.6,67.28 L405.6,67.29 L406.6,67.29 L407.6,67.29 L408.6,67.29 L409.6,67.30 L410.6,67.30 L411.6,67.30 L412.6,67.30 L413.6,67.31 L414.6,67.31 L415.6,67.31 L416.6,67.31 L417.6,67.32 L418.6,67.32 L419.6,67.32 L420.6,67.33 L421.6,67.33 L422.6,67.33 L423.6,67.33 L424.6,67.34 L425.6,67.34 L426.6,67.34 L427.6,67.35 L428.6,67.35 L429.6,67.35 L430.6,67.36 L431.6,67.36 L432.6,67.36 L433.6,67.37 L434.6,67.37 L435.6,67.37 L436.6,67.38 L437.6,67.38 L438.6,67.38 L439.6,67.39 L440.6,67.39 L441.6,67.39 L442.6,67.40 L443.6,67.40 L444.6,67.40 L445.6,67.41 L446.6,67.41 L447.6,67.42 L448.6,67.42 L449.6,67.42 L450.6,67.43 L451.6,67.43 L452.6,67.44 L453.6,67.44 L454.6,67.44 L455.6,67.45 L456.6,67.45 L457.6,67.46 L458.6,67.46 L459.6,67.47 L460.6,67.47 L461.6,67.47 L462.6,67.48 L463.6,67.48 L464.6,67.49 L465.6,67.49 L466.6,67.50 L467.6,67.50 L468.6,67.51 L469.6,67.51 L470.6,67.52 L471.6,67.52 L472.6,67.53 L473.6,67.53 L474.6,67.54 L475.6,67.54 L476.6,67.55 L477.6,67.55 L478.6,67.56 L479.6,67.57 L480.6,67.57 L481.6,67.58 L482.6,67.58 L483.6,67.59 L484.6,67.59 L485.6,67.60 L486.6,67.61 L487.6,67.61 L488.6,67.62 L489.6,67.62 L490.6,67.63 L491.6,67.64 L492.6,67.64 L493.6,67.65 L494.6,67.66 L495.6,67.66 L496.6,67.67 L497.6,67.68 L498.6,67.68 L499.6,67.69 L500.6,67.70 L501.6,67.71 L502.6,67.71 L503.6,67.72 L504.6,67.73 L505.6,67.73 L506.6,67.74 L507.6,67.75 L508.6,67.76 L509.6,67.77 L510.6,67.77 L511.6,67.78 L512.6,67.79 L513.6,67.80 L514.6,67.81 L515.6,67.81 L516.6,67.82 L517.6,67.83 L518.6,67.84 L519.6,67.85 L520.6,67.86 L521.6,67.87 L522.6,67.88 L523.6,67.89 L524.6,67.89 L525.6,67.90 L526.6,67.91 L527.6,67.92 L528.6,67.93 L529.6,67.94 L530.6,67.95 L531.6,67.96 L532.6,67.97 L533.6,67.98 L534.6,67.99 L535.6,68.00 L536.6,68.01 L537.6,68.03 L538.6,68.04 L539.6,68.05 L540.6,68.06 L541.6,68.07 L542.6,68.08 L543.6,68.09 L544.6,68.10 L545.6,68.12 L546.6,68.13 L547.6,68.14 L548.6,68.15 L549.6,68.16 L550.6,68.18 L551.6,68.19 L552.6,68.20 L553.6,68.21 L554.6,68.23 L555.6,68.24 L556.6,68.25 L557.6,68.27 L558.6,68.28 L559.6,68.30 L560.6,68.31 L561.6,68.32 L562.6,68.34 L563.6,68.35 L564.6,68.37 L565.6,68.38 L566.6,68.40 L567.6,68.41 L568.6,68.43 L569.6,68.44 L570.6,68.46 L571.6,68.47 L572.6,68.49 L573.6,68.51 L574.6,68.52 L575.6,68.54 L576.6,68.56 L577.6,68.57 L578.6,68.59 L579.6,68.61 L580.6,68.63 L581.6,68.64 L582.6,68.66 L583.6,68.68 L584.6,68.70 L585.6,68.72 L586.6,68.73 L587.6,68.75 L588.6,68.77 L589.6,68.79 L590.6,68.81 L591.6,68.83 L592.6,68.85 L593.6,68.87 L594.6,68.89 L595.6,68.91 L596.6,68.93 L597.6,68.96 L598.6,68.98 L599.6,69.00 L600.6,69.02 L601.6,69.04 L602.6,69.07 L603.6,69.09 L604.6,69.11 L605.6,69.14 L606.6,69.16 L607.6,69.18 L608.6,69.21 L609.6,69.23 L610.6,69.26 L611.6,69.28 L612.6,69.31 L613.6,69.33 L614.6,69.36 L615.6,69.38 L616.6,69.41 L617.6,69.44 L618.6,69.46 L619.6,69.49 L620.6,69.52 L621.6,69.55 L622.6,69.57 L623.6,69.60 L624.6,69.63 L625.6,69.66 L626.6,69.69 L627.6,69.72 L628.6,69.75 L629.6,69.78 L630.6,69.81 L631.6,69.84 L632.6,69.88 L633.6,69.91 L634.6,69.94 L635.6,69.97 L636.6,70.01 L637.6,70.04 L638.6,70.07 L639.6,70.11 L640.6,70.14 L641.6,70.18 L642.6,70.21 L643.6,70.25 L644.6,70.29 L645.6,70.32 L646.6,70.36 L647.6,70.40 L648.6,70.43 L649.6,70.47 L650.6,70.51 L651.6,70.55 L652.6,70.59 L653.6,70.63 L654.6,70.67 L655.6,70.71 L656.6,70.75 L657.6,70.80 L658.6,70.84 L659.6,70.88 L660.6,70.93 L661.6,70.97 L662.6,71.01 L663.6,71.06 L664.6,71.10 L665.6,71.15 L666.6,71.20 L667.6,71.24 L668.6,71.29 L669.6,71.34 L670.6,71.39 L671.6,71.44 L672.6,71.49 L673.6,71.54 L674.6,71.59 L675.6,71.64 L676.6,71.69 L677.6,71.74 L678.6,71.80 L679.6,71.85 L680.6,71.91 L681.6,71.96 L682.6,72.02 L683.6,72.07 L684.6,72.13 L685.6,72.19 L686.6,72.25 L687.6,72.31 L688.6,72.37 L689.6,72.43 L690.6,72.49 L691.6,72.55 L692.6,72.61 L693.6,72.67 L694.6,72.74 L695.6,72.80 L696.6,72.87 L697.6,72.93 L698.6,73.00 L699.6,73.07 L700.6,73.14 L701.6,73.20 L702.6,73.27 L703.6,73.35 L704.6,73.42 L705.6,73.49 L706.6,73.56 L707.6,73.64 L708.6,73.71 L709.6,73.79 L710.6,73.86 L711.6,73.94 L712.6,74.02 L713.6,74.10 L714.6,74.18 L715.6,74.26 L716.6,74.34 L717.6,74.42 L718.6,74.51 L719.6,74.59 L720.6,74.68 L721.6,74.76 L722.6,74.85 L723.6,74.94 L724.6,75.03 L725.6,75.12 L726.6,75.21 L727.6,75.30 L728.6,75.40 L729.6,75.49 L730.6,75.59 L731.6,75.68 L732.6,75.78 L733.6,75.88 L734.6,75.98 L735.6,76.08 L736.6,76.18 L737.6,76.29 L738.6,76.39 L739.6,76.50 L740.6,76.60 L741.6,76.71 L742.6,76.82 L743.6,76.93 L744.6,77.04 L745.6,77.16 L746.6,77.27 L747.6,77.39 L748.6,77.50 L749.6,77.62 L750.6,77.74 L751.6,77.86 L752.6,77.98 L753.6,78.11 L754.6,78.23 L755.6,78.36 L756.6,78.49 L757.6,78.62 L758.6,78.75 L759.6,78.88 L760.6,79.01 L761.6,79.15 L762.6,79.28 L763.6,79.42 L764.6,79.56 L765.6,79.70 L766.6,79.85 L767.6,79.99 L768.6,80.14 L769.6,80.28 L770.6,80.43 L771.6,80.58 L772.6,80.74 L773.6,80.89 L774.6,81.05 L775.6,81.21 L776.6,81.37 L777.6,81.53 L778.6,81.69 L779.6,81.85 L780.6,82.02 L781.6,82.19 L782.6,82.36 L783.6,82.53 L784.6,82.71 L785.6,82.88 L786.6,83.06 L787.6,83.24 L788.6,83.42 L789.6,83.61 L790.6,83.80 L791.6,83.98 L792.6,84.17 L793.6,84.37 L794.6,84.56 L795.6,84.76 L796.6,84.96 L797.6,85.16 L798.6,85.36 L799.6,85.57 L800.6,85.77 L801.6,85.98 L802.6,86.20 L803.6,86.41 L804.6,86.63 L805.6,86.85 L806.6,87.07 L807.6,87.30 L808.6,87.52 L809.6,87.75 L810.6,87.98 L811.6,88.22 L812.6,88.45 L813.6,88.69 L814.6,88.94 L815.6,89.18 L816.6,89.43 L817.6,89.68 L818.6,89.93 L819.6,90.19 L820.6,90.45 L821.6,90.71 L822.6,90.97 L823.6,91.24 L824.6,91.51 L825.6,91.78 L826.6,92.06 L827.6,92.34 L828.6,92.62 L829.6,92.90 L830.6,93.19 L831.6,93.48 L832.6,93.78 L833.6,94.07 L834.6,94.37 L835.6,94.68 L836.6,94.99 L837.6,95.30 L838.6,95.61 L839.6,95.93 L840.6,96.25 L841.6,96.57 L842.6,96.90 L843.6,97.23 L844.6,97.57 L845.6,97.90 L846.6,98.25 L847.6,98.59 L848.6,98.94 L849.6,99.29 L850.6,99.65 L851.6,100.01 L852.6,100.38 L853.6,100.74 L854.6,101.12 L855.6,101.49 L856.6,101.87 L857.6,102.26 L858.6,102.65 L859.6,103.04 L860.6,103.43 L861.6,103.84 L862.6,104.24 L863.6,104.65 L864.6,105.06 L865.6,105.48 L866.6,105.90 L867.6,106.33 L868.6,106.76 L869.6,107.20 L870.6,107.64 L871.6,108.08 L872.6,108.53 L873.6,108.99 L874.6,109.45 L875.6,109.91 L876.6,110.38 L877.6,110.85 L878.6,111.33 L879.6,111.82 L880.6,112.30 L881.6,112.80 L882.6,113.30 L883.6,113.80 L884.6,114.31 L885.6,114.82 L886.6,115.34 L887.6,115.87 L888.6,116.40 L889.6,116.94 L890.6,117.48 L891.6,118.02 L892.6,118.58 L893.6,119.13 L894.6,119.70 L895.6,120.27 L896.6,120.84 L897.6,121.42 L898.6,122.01 L899.6,122.61 L900.6,123.20 L901.6,123.81 L902.6,124.42 L903.6,125.04 L904.6,125.66 L905.6,126.29 L906.6,126.93 L907.6,127.57 L908.6,128.22 L909.6,128.88 L910.6,129.54 L911.6,130.21 L912.6,130.88 L913.6,131.56 L914.6,132.25 L915.6,132.95 L916.6,133.65 L917.6,134.36 L918.6,135.08 L919.6,135.80 L920.6,136.53 L921.6,137.27 L922.6,138.01 L923.6,138.76 L924.6,139.52 L925.6,140.29 L926.6,141.07 L927.6,141.85 L928.6,142.64 L929.6,143.43 L930.6,144.24 L931.6,145.05 L932.6,145.87 L933.6,146.70 L934.6,147.53 L935.6,148.38 L936.6,149.23 L937.6,150.09 L938.6,150.96 L939.6,151.83 L940.6,152.72 L941.6,153.61 L942.6,154.51 L943.6,155.42 L944.6,156.34 L945.6,157.26 L946.6,158.20 L947.6,159.14 L948.6,160.10 L949.6,161.06 L950.6,162.03 L951.6,163.01 L952.6,163.99 L953.6,164.99 L954.6,166.00 L955.6,167.01 L956.6,168.04 L957.6,169.07 L958.6,170.11 L959.6,171.16 L960.6,172.23 L961.6,173.30 L962.6,174.38 L963.6,175.47 L964.6,176.57 L965.6,177.68 L966.6,178.80 L967.6,179.93 L968.6,181.06 L969.6,182.21 L970.6,183.37 L971.6,184.54 L972.6,185.72 L973.6,186.91 L974.6,188.11 L975.6,189.32 L976.6,190.54 L977.6,191.77 L978.6,193.01 L979.6,194.26 L980.6,195.52 L981.6,196.79 L982.6,198.07 L983.6,199.37 L984.6,200.67 L985.6,201.99 L986.6,203.31 L987.6,204.65 L988.6,205.99 L989.6,207.35 L990.6,208.72 L991.6,210.10 L992.6,211.49 L993.6,212.89 L994.6,214.31 L995.6,215.73 L996.6,217.17 L997.6,218.61 L998.6,220.07 L999.6,221.54 L1000.6,223.02 L1001.6,224.51 L1002.6,226.02 L1003.6,227.53 L1004.6,229.06 L1005.6,230.60 L1006.6,232.15 L1007.6,233.71 L1008.6,235.28 L1009.6,236.87 L1010.6,238.46 L1011.6,240.07 L1012.6,241.69 L1013.6,243.32 L1014.6,244.96 L1015.6,246.62 L1016.6,248.28 L1017.6,249.96 L1018.6,251.65 L1019.6,253.35 L1020.6,255.07 L1021.6,256.79 L1022.6,258.53 L1023.6,260.28 L1024.6,262.04 L1025.6,263.81 L1026.6,265.60 L1027.6,267.40 L1028.6,269.21 L1029.6,271.03 L1030.6,272.86 L1031.6,274.70 L1032.6,276.56 L1033.6,278.43 L1034.6,280.31 L1035.6,282.20 L1036.6,284.10 L1037.6,286.02 L1038.6,287.95 L1039.6,289.89 L1040.6,291.84 L1041.6,293.80 L1042.6,295.77 L1043.6,297.76 L1044.6,299.76 L1045.6,301.77 L1046.6,303.79 L1047.6,305.82 L1048.6,307.87 L1049.6,309.92 L1050.6,311.99 L1051.6,314.07 L1052.6,316.16 L1053.6,318.26 L1054.6,320.37 L1055.6,322.50 L1056.6,324.63 L1057.6,326.78 L1058.6,328.94 L1059.6,331.11 L1060.6,333.29 L1061.6,335.48 L1062.6,337.68 L1063.6,339.89 L1064.6,342.12 L1065.6,344.35 L1066.6,346.60 L1067.6,348.85 L1068.6,351.12 L1069.6,353.39 L1070.6,355.68 L1071.6,357.98 L1072.6,360.29 L1073.6,362.60 L1074.6,364.93 L1075.6,367.27 L1076.6,369.61 L1077.6,371.97 L1078.6,374.34 L1079.6,376.71 L1080.6,379.10 L1081.6,381.49 L1082.6,383.90 L1083.6,386.31 L1084.6,388.73 L1085.6,391.17 L1086.6,393.61 L1087.6,396.06 L1088.6,398.51 L1089.6,400.98 L1090.6,403.45 L1091.6,405.94 L1092.6,408.43 L1093.6,410.93 L1094.6,413.43 L1095.6,415.95 L1096.6,418.47 L1097.6,421.00 L1098.6,423.54 L1099.6,426.08 L1100.6,428.63 L1101.6,431.19 L1102.6,433.76 L1103.6,436.33 L1104.6,438.91 L1105.6,441.49 L1106.6,444.08 L1107.6,446.68 L1108.6,449.28 L1109.6,451.89 L1110.6,454.51 L1111.6,457.13 L1112.6,459.75 L1113.6,462.38 L1114.6,465.02 L1115.6,467.66 L1116.6,470.31 L1117.6,472.96 L1118.6,475.61 L1119.6,478.27 L1120.6,480.93 L1121.6,483.60 L1122.6,486.27 L1123.6,488.95 L1124.6,491.62 L1125.6,494.31 L1126.6,496.99 L1127.6,499.68 L1128.6,502.37 L1129.6,505.06 L1130.6,507.75 L1131.6,510.45 L1132.6,513.15 L1133.6,515.85 L1134.6,518.56 L1135.6,521.26 L1136.6,523.97 L1137.6,526.67 L1138.6,529.38 L1139.6,532.09 L1140.6,534.80 L1141.6,537.51 L1142.6,540.22 L1143.6,542.93 L1144.6,545.64 L1145.6,548.35 L1146.6,551.06 L1147.6,553.77 L1148.6,556.48 L1149.6,559.19 L1150.6,561.89 L1151.6,564.60 L1152.6,567.30 L1153.6,570.01 L1154.6,572.71 L1155.6,575.41 L1156.6,578.10 L1157.6,580.80 L1158.6,583.49 L1159.6,586.18 L1160.6,588.86 L1161.6,591.55 L1162.6,594.23 L1163.6,596.90 L1164.6,599.58 L1165.6,602.25 L1166.6,604.91 L1167.6,607.58 L1168.6,610.23 L1169.6,612.89 L1170.6,615.54 L1171.6,618.18 L1172.6,620.82 L1173.6,623.46 L1174.6,626.09 L1175.6,628.71 L1176.6,631.33 L1177.6,633.94 L1178.6,636.55 L1179.6,639.15 L1180.6,641.75 L1181.6,644.34 L1182.6,646.92 L1183.6,649.50 L1184.6,652.07 L1185.6,654.63 L1186.6,657.19 L1187.6,659.74 L1188.6,662.28 L1189.6,664.81 L1190.6,667.34 L1191.6,669.86 L1192.6,672.37 L1193.6,674.88 L1194.6,677.38 L1195.6,679.87 L1196.6,682.35 L1197.6,684.82 L1198.6,687.28 L1199.6,689.74 L1200.6,692.18 L1201.6,694.62 L1202.6,697.05 L1203.6,699.47 L1204.6,701.88 L1205.6,704.28 L1206.6,706.68 L1207.6,709.06 L1208.6,711.43 L1209.6,713.80 L1210.6,716.15 L1211.6,718.49 L1212.6,720.83 L1213.6,723.15 L1214.6,725.47 L1215.6,727.77 L1216.6,730.07 L1217.6,732.35 L1218.6,734.63 L1219.6,736.89 L1220.6,739.14 L1221.6,741.38 L1222.6,743.61 L1223.6,745.84 L1224.6,748.05 L1225.6,750.24 L1226.6,752.43 L1227.6,754.61 L1228.6,756.78 L1229.6,758.93 L1230.6,761.07 L1231.6,763.21 L1232.6,765.33 L1233.6,767.44 L1234.6,769.54 L1235.6,771.62 L1236.6,773.70 L1237.6,775.76 L1238.6,777.82 L1239.6,779.86 L1240.6,781.89 L1241.6,783.91 L1242.6,785.91 L1243.6,787.91 L1244.6,789.89 L1245.6,791.86 L1246.6,793.82 L1247.6,795.77 L1248.6,797.71 L1249.6,799.63 L1250.6,801.54 L1251.6,803.44 L1252.6,805.33 L1253.6,807.21 L1254.6,809.07 L1255.6,810.93 L1256.6,812.77 L1257.6,814.60 L1258.6,816.42 L1259.6,818.22 L1260.6,820.02 L1261.6,821.80 L1262.6,823.57 L1263.6,825.33 L1264.6,827.07 L1265.6,828.81 L1266.6,830.53 L1267.6,832.24 L1268.6,833.94 L1269.6,835.62 L1270.6,837.30 L1271.6,838.96 L1272.6,840.61 L1273.6,842.25 L1274.6,843.88 L1275.6,845.50 L1276.6,847.10 L1277.6,848.70 L1278.6,850.28 L1279.6,851.85 L1280.6,853.41 L1281.6,854.95 L1282.6,856.49 L1283.6,858.01 L1284.6,859.52 L1285.6,861.02 L1286.6,862.51 L1287.6,863.99 L1288.6,865.46 L1289.6,866.91 L1290.6,868.35 L1291.6,869.79 L1292.6,871.21 L1293.6,872.62 L1294.6,874.02 L1295.6,875.41 L1296.6,876.78 L1297.6,878.15 L1298.6,879.50 L1299.6,880.85 L1300.6,882.18 L1301.6,883.50 L1302.6,884.82 L1303.6,886.12 L1304.6,887.41 L1305.6,888.69 L1306.6,889.96 L1307.6,891.21 L1308.6,892.46 L1309.6,893.70 L1310.6,894.93 L1311.6,896.14 L1312.6,897.35 L1313.6,898.55 L1314.6,899.73 L1315.6,900.91 L1316.6,902.08 L1317.6,903.23 L1318.6,904.38 L1319.6,905.51 L1320.6,906.64 L1321.6,907.76 L1322.6,908.86 L1323.6,909.96 L1324.6,911.05 L1325.6,912.13 L1326.6,913.20 L1327.6,914.26 L1328.6,915.30 L1329.6,916.35 L1330.6,917.38 L1331.6,918.40 L1332.6,919.41 L1333.6,920.41 L1334.6,921.41 L1335.6,922.39 L1336.6,923.37 L1337.6,924.34 L1338.6,925.30 L1339.6,926.25 L1340.6,927.19 L1341.6,928.12 L1342.6,929.05 L1343.6,929.96 L1344.6,930.87 L1345.6,931.77 L1346.6,932.66 L1347.6,933.54 L1348.6,934.41 L1349.6,935.28 L1350.6,936.14 L1351.6,936.99 L1352.6,937.83 L1353.6,938.66 L1354.6,939.49 L1355.6,940.31 L1356.6,941.12 L1357.6,941.92 L1358.6,942.71 L1359.6,943.50 L1360.6,944.28 L1361.6,945.05 L1362.6,945.82 L1363.6,946.57 L1364.6,947.33 L1365.6,948.07 L1366.6,948.80 L1367.6,949.53 L1368.6,950.25 L1369.6,950.97 L1370.6,951.68 L1371.6,952.38 L1372.6,953.07 L1373.6,953.76 L1374.6,954.44 L1375.6,955.11 L1376.6,955.78 L1377.6,956.44 L1378.6,957.09 L1379.6,957.74 L1380.6,958.38 L1381.6,959.01 L1382.6,959.64 L1383.6,960.27 L1384.6,960.88 L1385.6,961.49 L1386.6,962.09 L1387.6,962.69 L1388.6,963.28 L1389.6,963.87 L1390.6,964.45 L1391.6,965.02 L1392.6,965.59 L1393.6,966.15 L1394.6,966.71 L1395.6,967.26 L1396.6,967.81 L1397.6,968.35 L1398.6,968.88 L1399.6,969.41 L1400.6,969.93 L1401.6,970.45 L1402.6,970.97 L1403.6,971.47 L1404.6,971.98 L1405.6,972.47 L1406.6,972.97 L1407.6,973.45 L1408.6,973.93 L1409.6,974.41 L1410.6,974.88 L1411.6,975.35 L1412.6,975.81 L1413.6,976.27 L1414.6,976.73 L1415.6,977.17 L1416.6,977.62 L1417.6,978.06 L1418.6,978.49 L1419.6,978.92 L1420.6,979.35 L1421.6,979.77 L1422.6,980.19 L1423.6,980.60 L1424.6,981.01 L1425.6,981.41 L1426.6,981.81 L1427.6,982.21 L1428.6,982.60 L1429.6,982.98 L1430.6,983.37 L1431.6,983.75 L1432.6,984.12 L1433.6,984.49 L1434.6,984.86 L1435.6,985.22 L1436.6,985.58 L1437.6,985.94 L1438.6,986.29 L1439.6,986.64 L1440.6,986.98 L1441.6,987.32 L1442.6,987.66 L1443.6,988.00 L1444.6,988.33 L1445.6,988.65 L1446.6,988.98 L1447.6,989.30 L1448.6,989.61 L1449.6,989.93 L1450.6,990.23 L1451.6,990.54 L1452.6,990.84 L1453.6,991.14 L1454.6,991.44 L1455.6,991.73 L1456.6,992.02 L1457.6,992.31 L1458.6,992.60 L1459.6,992.88 L1460.6,993.15 L1461.6,993.43 L1462.6,993.70 L1463.6,993.97 L1464.6,994.24 L1465.6,994.50 L1466.6,994.76 L1467.6,995.02 L1468.6,995.27 L1469.6,995.53 L1470.6,995.78 L1471.6,996.02 L1472.6,996.27 L1473.6,996.51 L1474.6,996.75 L1475.6,996.98 L1476.6,997.22 L1477.6,997.45 L1478.6,997.68 L1479.6,997.90 L1480.6,998.13 L1481.6,998.35 L1482.6,998.57 L1483.6,998.78 L1484.6,999.00 L1485.6,999.21 L1486.6,999.42 L1487.6,999.63 L1488.6,999.83 L1489.6,1000.03 L1490.6,1000.24 L1491.6,1000.43 L1492.6,1000.63 L1493.6,1000.82 L1494.6,1001.02 L1495.6,1001.21 L1496.6,1001.39 L1497.6,1001.58 L1498.6,1001.76 L1499.6,1001.94 L1500.6,1002.12 L1501.6,1002.30 L1502.6,1002.48 L1503.6,1002.65 L1504.6,1002.82 L1505.6,1002.99 L1506.6,1003.16 L1507.6,1003.33 L1508.6,1003.49 L1509.6,1003.65 L1510.6,1003.82 L1511.6,1003.97 L1512.6,1004.13 L1513.6,1004.29 L1514.6,1004.44 L1515.6,1004.59 L1516.6,1004.74 L1517.6,1004.89 L1518.6,1005.04 L1519.6,1005.19 L1520.6,1005.33 L1521.6,1005.47 L1522.6,1005.61 L1523.6,1005.75 L1524.6,1005.89 L1525.6,1006.03 L1526.6,1006.16 L1527.6,1006.30 L1528.6,1006.43 L1529.6,1006.56 L1530.6,1006.69 L1531.6,1006.81 L1532.6,1006.94 L1533.6,1007.06 L1534.6,1007.19 L1535.6,1007.31 L1536.6,1007.43 L1537.6,1007.55 L1538.6,1007.67 L1539.6,1007.78 L1540.6,1007.90 L1541.6,1008.01 L1542.6,1008.13 L1543.6,1008.24 L1544.6,1008.35 L1545.6,1008.46 L1546.6,1008.56 L1547.6,1008.67 L1548.6,1008.78 L1549.6,1008.88 L1550.6,1008.98 L1551.6,1009.09 L1552.6,1009.19 L1553.6,1009.29 L1554.6,1009.38 L1555.6,1009.48 L1556.6,1009.58 L1557.6,1009.67 L1558.6,1009.77 L1559.6,1009.86 L1560.6,1009.95 L1561.6,1010.04 L1562.6,1010.14 L1563.6,1010.22 L1564.6,1010.31 L1565.6,1010.40 L1566.6,1010.49 L1567.6,1010.57 L1568.6,1010.66 L1569.6,1010.74 L1570.6,1010.82 L1571.6,1010.90 L1572.6,1010.98 L1573.6,1011.06 L1574.6,1011.14 L1575.6,1011.22 L1576.6,1011.30 L1577.6,1011.37 L1578.6,1011.45 L1579.6,1011.52 L1580.6,1011.60 L1581.6,1011.67 L1582.6,1011.74 L1583.6,1011.81 L1584.6,1011.88 L1585.6,1011.95 L1586.6,1012.02 L1587.6,1012.09 L1588.6,1012.16 L1589.6,1012.22 L1590.6,1012.29 L1591.6,1012.35 L1592.6,1012.42 L1593.6,1012.48 L1594.6,1012.54 L1595.6,1012.61 L1596.6,1012.67 L1597.6,1012.73 L1598.6,1012.79 L1599.6,1012.85 L1600.6,1012.91 L1601.6,1012.97 L1602.2,1013.00" fill="none" stroke="#000" stroke-width="3.1"/>
<ellipse cx="182.6" cy="800.2" rx="11.3" ry="10.5" fill="none" stroke="#a87272" stroke-width="1.4"/>
<g stroke="#d81c32" fill="none"><line x1="182.6" y1="783.1" x2="182.6" y2="817.3" stroke-width="3"/><line x1="172.1" y1="783.1" x2="194.1" y2="783.1" stroke-width="3.2"/><line x1="172.1" y1="817.3" x2="194.1" y2="817.3" stroke-width="3.2"/></g>
<ellipse cx="385.4" cy="779.8" rx="11.3" ry="10.5" fill="none" stroke="#a87272" stroke-width="1.4"/>
<g stroke="#d81c32" fill="none"><line x1="385.4" y1="743.5" x2="385.4" y2="816.0" stroke-width="3"/><line x1="374.9" y1="743.5" x2="396.9" y2="743.5" stroke-width="3.2"/><line x1="374.9" y1="816.0" x2="396.9" y2="816.0" stroke-width="3.2"/></g>
<ellipse cx="588.2" cy="801.8" rx="11.3" ry="10.5" fill="none" stroke="#a87272" stroke-width="1.4"/>
<g stroke="#d81c32" fill="none"><line x1="588.2" y1="777.2" x2="588.2" y2="826.5" stroke-width="3"/><line x1="577.7" y1="777.2" x2="599.7" y2="777.2" stroke-width="3.2"/><line x1="577.7" y1="826.5" x2="599.7" y2="826.5" stroke-width="3.2"/></g>
<ellipse cx="791.0" cy="807.6" rx="11.3" ry="10.5" fill="none" stroke="#a87272" stroke-width="1.4"/>
<g stroke="#d81c32" fill="none"><line x1="791.0" y1="772.0" x2="791.0" y2="843.2" stroke-width="3"/><line x1="780.5" y1="772.0" x2="802.5" y2="772.0" stroke-width="3.2"/><line x1="780.5" y1="843.2" x2="802.5" y2="843.2" stroke-width="3.2"/></g>
<ellipse cx="993.8" cy="830.2" rx="11.3" ry="10.5" fill="none" stroke="#a87272" stroke-width="1.4"/>
<g stroke="#d81c32" fill="none"><line x1="993.8" y1="798.9" x2="993.8" y2="861.5" stroke-width="3"/><line x1="983.3" y1="798.9" x2="1005.3" y2="798.9" stroke-width="3.2"/><line x1="983.3" y1="861.5" x2="1005.3" y2="861.5" stroke-width="3.2"/></g>
<ellipse cx="1196.6" cy="867.4" rx="11.3" ry="10.5" fill="none" stroke="#a87272" stroke-width="1.4"/>
<g stroke="#d81c32" fill="none"><line x1="1196.6" y1="842.8" x2="1196.6" y2="891.9" stroke-width="3"/><line x1="1186.1" y1="842.8" x2="1208.1" y2="842.8" stroke-width="3.2"/><line x1="1186.1" y1="891.9" x2="1208.1" y2="891.9" stroke-width="3.2"/></g>
<ellipse cx="1399.4" cy="970.3" rx="11.3" ry="10.5" fill="none" stroke="#a87272" stroke-width="1.4"/>
<g stroke="#d81c32" fill="none"><line x1="1399.4" y1="962.7" x2="1399.4" y2="977.9" stroke-width="3"/><line x1="1388.9" y1="962.7" x2="1410.9" y2="962.7" stroke-width="3.2"/><line x1="1388.9" y1="977.9" x2="1410.9" y2="977.9" stroke-width="3.2"/></g>
<ellipse cx="1602.2" cy="1009.0" rx="11.3" ry="10.5" fill="none" stroke="#a87272" stroke-width="1.4"/>
<g stroke="#d81c32" fill="none"><line x1="1602.2" y1="1006.5" x2="1602.2" y2="1011.5" stroke-width="3"/><line x1="1591.7" y1="1006.5" x2="1613.7" y2="1006.5" stroke-width="3.2"/><line x1="1591.7" y1="1011.5" x2="1613.7" y2="1011.5" stroke-width="3.2"/></g>
<path d="M172.0,651.4 L172.0,631.0 L193.2,631.0" fill="none" stroke="#9aa0b0" stroke-width="1.4"/><path d="M193.2,631.0 L193.2,651.4 L172.0,651.4" fill="none" stroke="#565c78" stroke-width="2"/>
<g stroke="#22309a" fill="none"><line x1="182.6" y1="620.0" x2="182.6" y2="662.4" stroke-width="3"/><line x1="172.1" y1="620.0" x2="194.1" y2="620.0" stroke-width="3.2"/><line x1="172.1" y1="662.4" x2="194.1" y2="662.4" stroke-width="3.2"/></g>
<path d="M374.8,653.2 L374.8,632.8 L396.0,632.8" fill="none" stroke="#9aa0b0" stroke-width="1.4"/><path d="M396.0,632.8 L396.0,653.2 L374.8,653.2" fill="none" stroke="#565c78" stroke-width="2"/>
<g stroke="#22309a" fill="none"><line x1="385.4" y1="622.1" x2="385.4" y2="664.0" stroke-width="3"/><line x1="374.9" y1="622.1" x2="396.9" y2="622.1" stroke-width="3.2"/><line x1="374.9" y1="664.0" x2="396.9" y2="664.0" stroke-width="3.2"/></g>
<path d="M577.6,694.2 L577.6,673.8 L598.8,673.8" fill="none" stroke="#9aa0b0" stroke-width="1.4"/><path d="M598.8,673.8 L598.8,694.2 L577.6,694.2" fill="none" stroke="#565c78" stroke-width="2"/>
<g stroke="#22309a" fill="none"><line x1="588.2" y1="676.0" x2="588.2" y2="692.0" stroke-width="3"/><line x1="577.7" y1="676.0" x2="599.7" y2="676.0" stroke-width="3.2"/><line x1="577.7" y1="692.0" x2="599.7" y2="692.0" stroke-width="3.2"/></g>
<path d="M780.4,798.2 L780.4,777.8 L801.6,777.8" fill="none" stroke="#9aa0b0" stroke-width="1.4"/><path d="M801.6,777.8 L801.6,798.2 L780.4,798.2" fill="none" stroke="#565c78" stroke-width="2"/>
<g stroke="#22309a" fill="none"><line x1="791.0" y1="771.6" x2="791.0" y2="804.4" stroke-width="3"/><line x1="780.5" y1="771.6" x2="802.5" y2="771.6" stroke-width="3.2"/><line x1="780.5" y1="804.4" x2="802.5" y2="804.4" stroke-width="3.2"/></g>
<path d="M983.2,946.4 L983.2,926.0 L1004.4,926.0" fill="none" stroke="#9aa0b0" stroke-width="1.4"/><path d="M1004.4,926.0 L1004.4,946.4 L983.2,946.4" fill="none" stroke="#565c78" stroke-width="2"/>
<g stroke="#22309a" fill="none"><line x1="993.8" y1="930.2" x2="993.8" y2="942.3" stroke-width="3"/><line x1="983.3" y1="930.2" x2="1005.3" y2="930.2" stroke-width="3.2"/><line x1="983.3" y1="942.3" x2="1005.3" y2="942.3" stroke-width="3.2"/></g>
<path d="M1186.0,1018.7 L1186.0,998.3 L1207.2,998.3" fill="none" stroke="#9aa0b0" stroke-width="1.4"/><path d="M1207.2,998.3 L1207.2,1018.7 L1186.0,1018.7" fill="none" stroke="#565c78" stroke-width="2"/>
<g stroke="#22309a" fill="none"><line x1="1196.6" y1="1006.5" x2="1196.6" y2="1010.5" stroke-width="3"/><line x1="1186.1" y1="1006.5" x2="1208.1" y2="1006.5" stroke-width="3.2"/><line x1="1186.1" y1="1010.5" x2="1208.1" y2="1010.5" stroke-width="3.2"/></g>
<path d="M1388.8,1027.2 L1388.8,1006.8 L1410.0,1006.8" fill="none" stroke="#9aa0b0" stroke-width="1.4"/><path d="M1410.0,1006.8 L1410.0,1027.2 L1388.8,1027.2" fill="none" stroke="#565c78" stroke-width="2"/>
<g stroke="#22309a" fill="none"><line x1="1399.4" y1="1016.0" x2="1399.4" y2="1018.0" stroke-width="3"/><line x1="1388.9" y1="1016.0" x2="1410.9" y2="1016.0" stroke-width="3.2"/><line x1="1388.9" y1="1018.0" x2="1410.9" y2="1018.0" stroke-width="3.2"/></g>
<path d="M1591.6,1027.2 L1591.6,1006.8 L1612.8,1006.8" fill="none" stroke="#9aa0b0" stroke-width="1.4"/><path d="M1612.8,1006.8 L1612.8,1027.2 L1591.6,1027.2" fill="none" stroke="#565c78" stroke-width="2"/>
<g stroke="#22309a" fill="none"><line x1="1602.2" y1="1016.5" x2="1602.2" y2="1017.5" stroke-width="3"/><line x1="1591.7" y1="1016.5" x2="1613.7" y2="1016.5" stroke-width="3.2"/><line x1="1591.7" y1="1017.5" x2="1613.7" y2="1017.5" stroke-width="3.2"/></g>
<path d="M171.1,328.3 L182.6,309.3 L194.1,328.3 Z" fill="none" stroke="#6a8a6a" stroke-width="1.4"/><circle cx="182.6" cy="322.0" r="1" fill="#6a8a6a"/>
<g stroke="#23922c" fill="none"><line x1="182.6" y1="303.3" x2="182.6" y2="340.6" stroke-width="3"/><line x1="172.1" y1="303.3" x2="194.1" y2="303.3" stroke-width="3.2"/><line x1="172.1" y1="340.6" x2="194.1" y2="340.6" stroke-width="3.2"/></g>
<path d="M373.9,324.2 L385.4,305.2 L396.9,324.2 Z" fill="none" stroke="#6a8a6a" stroke-width="1.4"/><circle cx="385.4" cy="317.9" r="1" fill="#6a8a6a"/>
<g stroke="#23922c" fill="none"><line x1="385.4" y1="285.5" x2="385.4" y2="350.3" stroke-width="3"/><line x1="374.9" y1="285.5" x2="396.9" y2="285.5" stroke-width="3.2"/><line x1="374.9" y1="350.3" x2="396.9" y2="350.3" stroke-width="3.2"/></g>
<path d="M576.7,306.8 L588.2,287.8 L599.7,306.8 Z" fill="none" stroke="#6a8a6a" stroke-width="1.4"/><circle cx="588.2" cy="300.5" r="1" fill="#6a8a6a"/>
<g stroke="#23922c" fill="none"><line x1="588.2" y1="280.0" x2="588.2" y2="321.1" stroke-width="3"/><line x1="577.7" y1="280.0" x2="599.7" y2="280.0" stroke-width="3.2"/><line x1="577.7" y1="321.1" x2="599.7" y2="321.1" stroke-width="3.2"/></g>
<path d="M779.5,356.2 L791.0,337.2 L802.5,356.2 Z" fill="none" stroke="#6a8a6a" stroke-width="1.4"/><circle cx="791.0" cy="349.9" r="1" fill="#6a8a6a"/>
<g stroke="#23922c" fill="none"><line x1="791.0" y1="325.2" x2="791.0" y2="374.5" stroke-width="3"/><line x1="780.5" y1="325.2" x2="802.5" y2="325.2" stroke-width="3.2"/><line x1="780.5" y1="374.5" x2="802.5" y2="374.5" stroke-width="3.2"/></g>
<path d="M982.3,473.7 L993.8,454.7 L1005.3,473.7 Z" fill="none" stroke="#6a8a6a" stroke-width="1.4"/><circle cx="993.8" cy="467.4" r="1" fill="#6a8a6a"/>
<g stroke="#23922c" fill="none"><line x1="993.8" y1="457.3" x2="993.8" y2="477.5" stroke-width="3"/><line x1="983.3" y1="457.3" x2="1005.3" y2="457.3" stroke-width="3.2"/><line x1="983.3" y1="477.5" x2="1005.3" y2="477.5" stroke-width="3.2"/></g>
<path d="M1185.1,754.1 L1196.6,735.1 L1208.1,754.1 Z" fill="none" stroke="#6a8a6a" stroke-width="1.4"/><circle cx="1196.6" cy="747.8" r="1" fill="#6a8a6a"/>
<g stroke="#23922c" fill="none"><line x1="1196.6" y1="738.3" x2="1196.6" y2="757.2" stroke-width="3"/><line x1="1186.1" y1="738.3" x2="1208.1" y2="738.3" stroke-width="3.2"/><line x1="1186.1" y1="757.2" x2="1208.1" y2="757.2" stroke-width="3.2"/></g>
<path d="M1387.9,1002.3 L1399.4,983.3 L1410.9,1002.3 Z" fill="none" stroke="#6a8a6a" stroke-width="1.4"/><circle cx="1399.4" cy="996.0" r="1" fill="#6a8a6a"/>
<g stroke="#23922c" fill="none"><line x1="1399.4" y1="993.5" x2="1399.4" y2="998.0" stroke-width="3"/><line x1="1388.9" y1="993.5" x2="1410.9" y2="993.5" stroke-width="3.2"/><line x1="1388.9" y1="998.0" x2="1410.9" y2="998.0" stroke-width="3.2"/></g>
<path d="M1590.7,1019.8 L1602.2,1000.8 L1613.7,1019.8 Z" fill="none" stroke="#6a8a6a" stroke-width="1.4"/><circle cx="1602.2" cy="1013.5" r="1" fill="#6a8a6a"/>
<g stroke="#23922c" fill="none"><line x1="1602.2" y1="1012.5" x2="1602.2" y2="1014.5" stroke-width="3"/><line x1="1591.7" y1="1012.5" x2="1613.7" y2="1012.5" stroke-width="3.2"/><line x1="1591.7" y1="1014.5" x2="1613.7" y2="1014.5" stroke-width="3.2"/></g>
<path d="M171.8,64.5 Q179.4,61.8 182.6,55.5 Q185.8,61.8 193.4,64.5 Q185.8,67.2 182.6,73.5 Q179.4,67.2 171.8,64.5 Z" fill="none" stroke="#5a5a5a" stroke-width="1.4"/>
<g stroke="#000" fill="none"><line x1="182.6" y1="23.2" x2="182.6" y2="105.7" stroke-width="3"/><line x1="172.1" y1="23.2" x2="194.1" y2="23.2" stroke-width="3.2"/><line x1="172.1" y1="105.7" x2="194.1" y2="105.7" stroke-width="3.2"/></g>
<path d="M374.6,61.8 Q382.2,59.1 385.4,52.8 Q388.6,59.1 396.2,61.8 Q388.6,64.5 385.4,70.8 Q382.2,64.5 374.6,61.8 Z" fill="none" stroke="#5a5a5a" stroke-width="1.4"/>
<g stroke="#000" fill="none"><line x1="385.4" y1="19.2" x2="385.4" y2="104.4" stroke-width="3"/><line x1="374.9" y1="19.2" x2="396.9" y2="19.2" stroke-width="3.2"/><line x1="374.9" y1="104.4" x2="396.9" y2="104.4" stroke-width="3.2"/></g>
<path d="M577.4,93.1 Q585.0,90.4 588.2,84.1 Q591.4,90.4 599.0,93.1 Q591.4,95.8 588.2,102.1 Q585.0,95.8 577.4,93.1 Z" fill="none" stroke="#5a5a5a" stroke-width="1.4"/>
<g stroke="#000" fill="none"><line x1="588.2" y1="64.8" x2="588.2" y2="121.4" stroke-width="3"/><line x1="577.7" y1="64.8" x2="599.7" y2="64.8" stroke-width="3.2"/><line x1="577.7" y1="121.4" x2="599.7" y2="121.4" stroke-width="3.2"/></g>
<path d="M780.2,117.8 Q787.8,115.1 791.0,108.8 Q794.2,115.1 801.8,117.8 Q794.2,120.5 791.0,126.8 Q787.8,120.5 780.2,117.8 Z" fill="none" stroke="#5a5a5a" stroke-width="1.4"/>
<g stroke="#000" fill="none"><line x1="791.0" y1="99.6" x2="791.0" y2="136.0" stroke-width="3"/><line x1="780.5" y1="99.6" x2="802.5" y2="99.6" stroke-width="3.2"/><line x1="780.5" y1="136.0" x2="802.5" y2="136.0" stroke-width="3.2"/></g>
<path d="M983.0,281.5 Q990.6,278.8 993.8,272.5 Q997.0,278.8 1004.6,281.5 Q997.0,284.2 993.8,290.5 Q990.6,284.2 983.0,281.5 Z" fill="none" stroke="#5a5a5a" stroke-width="1.4"/>
<g stroke="#000" fill="none"><line x1="993.8" y1="258.9" x2="993.8" y2="304.2" stroke-width="3"/><line x1="983.3" y1="258.9" x2="1005.3" y2="258.9" stroke-width="3.2"/><line x1="983.3" y1="304.2" x2="1005.3" y2="304.2" stroke-width="3.2"/></g>
<path d="M1185.8,633.8 Q1193.4,631.1 1196.6,624.8 Q1199.8,631.1 1207.4,633.8 Q1199.8,636.5 1196.6,642.8 Q1193.4,636.5 1185.8,633.8 Z" fill="none" stroke="#5a5a5a" stroke-width="1.4"/>
<g stroke="#000" fill="none"><line x1="1196.6" y1="628.8" x2="1196.6" y2="638.9" stroke-width="3"/><line x1="1186.1" y1="628.8" x2="1208.1" y2="628.8" stroke-width="3.2"/><line x1="1186.1" y1="638.9" x2="1208.1" y2="638.9" stroke-width="3.2"/></g>
<path d="M1388.6,971.5 Q1396.2,968.8 1399.4,962.5 Q1402.6,968.8 1410.2,971.5 Q1402.6,974.2 1399.4,980.5 Q1396.2,974.2 1388.6,971.5 Z" fill="none" stroke="#5a5a5a" stroke-width="1.4"/>
<g stroke="#000" fill="none"><line x1="1399.4" y1="968.0" x2="1399.4" y2="975.0" stroke-width="3"/><line x1="1388.9" y1="968.0" x2="1410.9" y2="968.0" stroke-width="3.2"/><line x1="1388.9" y1="975.0" x2="1410.9" y2="975.0" stroke-width="3.2"/></g>
<path d="M1591.4,1011.0 Q1599.0,1008.3 1602.2,1002.0 Q1605.4,1008.3 1613.0,1011.0 Q1605.4,1013.7 1602.2,1020.0 Q1599.0,1013.7 1591.4,1011.0 Z" fill="none" stroke="#5a5a5a" stroke-width="1.4"/>
<g stroke="#000" fill="none"><line x1="1602.2" y1="1009.5" x2="1602.2" y2="1012.5" stroke-width="3"/><line x1="1591.7" y1="1009.5" x2="1613.7" y2="1009.5" stroke-width="3.2"/><line x1="1591.7" y1="1012.5" x2="1613.7" y2="1012.5" stroke-width="3.2"/></g>
<rect x="1197" y="148" width="273" height="207" fill="#fff"/>
<g stroke="#000" fill="none"><line stroke-width="3.3" x1="1197.6" y1="147.2" x2="1197.6" y2="356"/><line stroke-width="3.3" x1="1195.9" y1="148.9" x2="1471.5" y2="148.9"/></g>
<g stroke="#000" fill="none" stroke-width="4.2"><line x1="1469.4" y1="147" x2="1469.4" y2="356"/><line x1="1195.9" y1="353.9" x2="1471.5" y2="353.9"/></g>
<g font-family="Liberation Sans, Arial, sans-serif" font-size="42" fill="#000">
<text x="1308" y="195.3">2H5</text>
<text x="1308" y="241.6">5B7F8</text>
<text x="1308" y="288.0">6B9C1</text>
<text x="1308" y="334.5">19C9A2</text>
</g>
<circle cx="1252.8" cy="183.2" r="13.3" fill="none" stroke="#a87272" stroke-width="1.4"/>
<path d="M1239.2,243.5 L1239.2,216.3 L1266.4,216.3" fill="none" stroke="#9aa0b0" stroke-width="1.4"/><path d="M1266.4,216.3 L1266.4,243.5 L1239.2,243.5" fill="none" stroke="#565c78" stroke-width="2"/>
<path d="M1238.6,284.2 L1252.8,259.7 L1267.0,284.2 Z" fill="none" stroke="#6a8a6a" stroke-width="1.4"/><circle cx="1252.8" cy="276.0" r="1" fill="#6a8a6a"/>
<path d="M1239.5,322.8 Q1247.7,317.7 1252.8,309.5 Q1257.9,317.7 1266.1,322.8 Q1257.9,327.9 1252.8,336.1 Q1247.7,327.9 1239.5,322.8 Z" fill="none" stroke="#5a5a5a" stroke-width="1.4"/>
</svg>
</body></html>
